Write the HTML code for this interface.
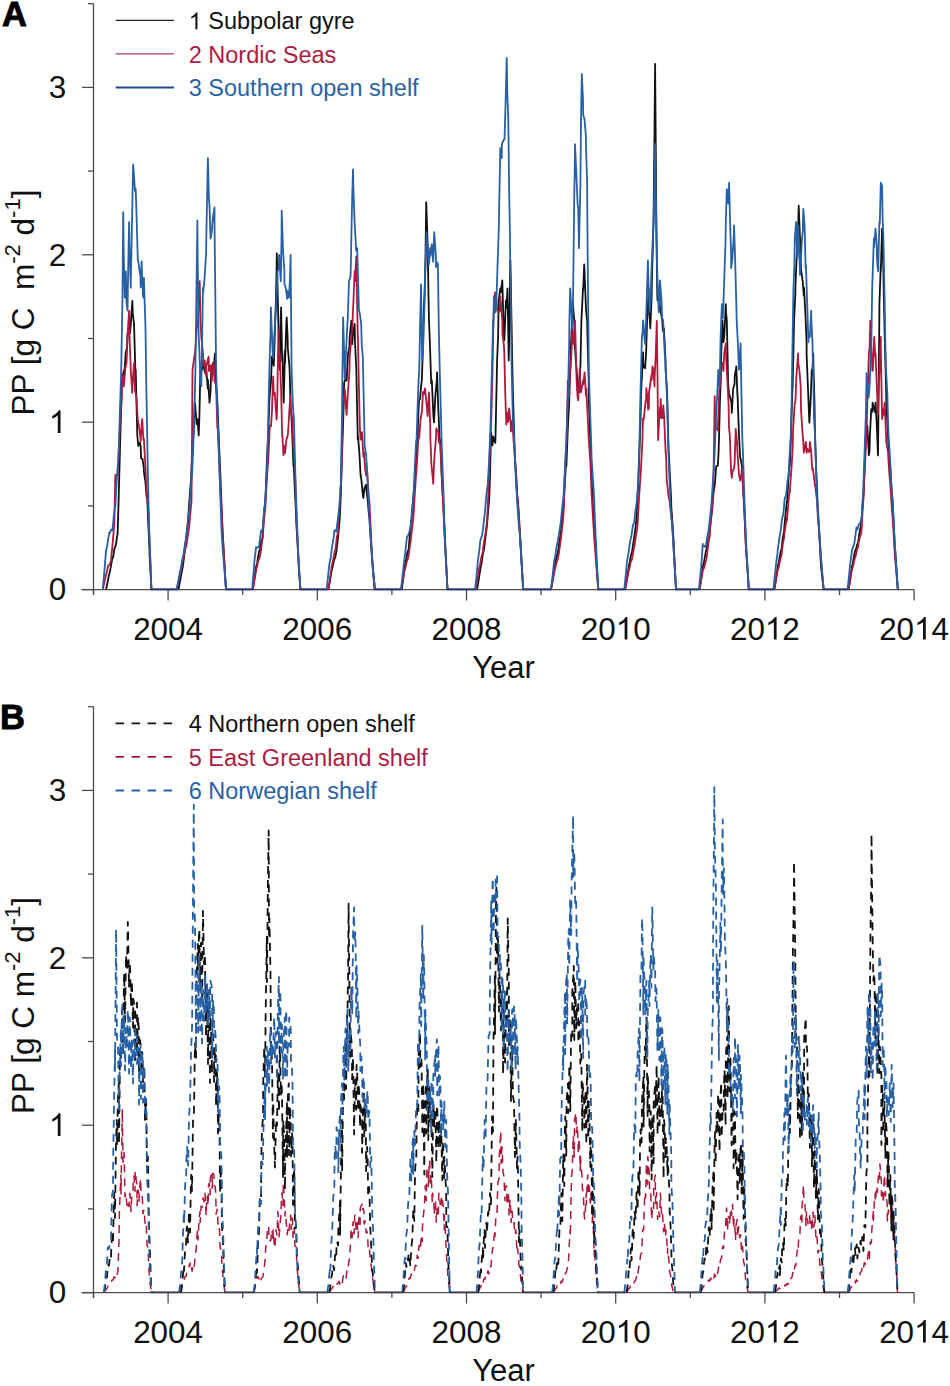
<!DOCTYPE html>
<html><head><meta charset="utf-8"><style>
html,body{margin:0;padding:0;background:#fff;width:950px;height:1386px;overflow:hidden}
svg{display:block}
text{white-space:pre}
</style></head><body>
<svg width="950" height="1386" viewBox="0 0 950 1386">
<rect width="950" height="1386" fill="#fff"/>
<line x1="93.5" y1="3.5" x2="93.5" y2="595.1" stroke="#4d4d4d" stroke-width="1.3"/>
<line x1="81.5" y1="589.6" x2="914.0999999999999" y2="589.6" stroke="#4d4d4d" stroke-width="1.3"/>
<line x1="82.0" y1="589.6" x2="93.5" y2="589.6" stroke="#4d4d4d" stroke-width="1.3"/>
<line x1="88.0" y1="505.9" x2="93.5" y2="505.9" stroke="#4d4d4d" stroke-width="1.3"/>
<line x1="82.0" y1="422.2" x2="93.5" y2="422.2" stroke="#4d4d4d" stroke-width="1.3"/>
<line x1="88.0" y1="338.5" x2="93.5" y2="338.5" stroke="#4d4d4d" stroke-width="1.3"/>
<line x1="82.0" y1="254.8" x2="93.5" y2="254.8" stroke="#4d4d4d" stroke-width="1.3"/>
<line x1="88.0" y1="171.1" x2="93.5" y2="171.1" stroke="#4d4d4d" stroke-width="1.3"/>
<line x1="82.0" y1="87.4" x2="93.5" y2="87.4" stroke="#4d4d4d" stroke-width="1.3"/>
<line x1="88.0" y1="3.7" x2="93.5" y2="3.7" stroke="#4d4d4d" stroke-width="1.3"/>
<text x="48.84" y="600.30" font-size="31.4" font-family="Liberation Sans, sans-serif" fill="#111111">0</text>
<text x="48.84" y="432.90" font-size="31.4" font-family="Liberation Sans, sans-serif" fill="#111111"> </text>
<path d="M763,0L583,0L583,1147C540,1106 483,1064 413,1023C343,982 280,951 223,930L223,1104C324,1151 412,1208 487,1276C562,1344 616,1409 647,1472L763,1472Z" transform="translate(48.84 432.90) scale(0.01533 -0.01533)" fill="#111111"/>
<text x="48.84" y="265.50" font-size="31.4" font-family="Liberation Sans, sans-serif" fill="#111111">2</text>
<text x="48.84" y="98.10" font-size="31.4" font-family="Liberation Sans, sans-serif" fill="#111111">3</text>
<line x1="93.5" y1="589.6" x2="93.5" y2="595.1" stroke="#4d4d4d" stroke-width="1.3"/>
<line x1="168.1" y1="589.6" x2="168.1" y2="600.6" stroke="#4d4d4d" stroke-width="1.3"/>
<text x="133.17" y="639.50" font-size="31.4" font-family="Liberation Sans, sans-serif" fill="#111111">2004</text>
<line x1="242.7" y1="589.6" x2="242.7" y2="595.1" stroke="#4d4d4d" stroke-width="1.3"/>
<line x1="317.3" y1="589.6" x2="317.3" y2="600.6" stroke="#4d4d4d" stroke-width="1.3"/>
<text x="282.37" y="639.50" font-size="31.4" font-family="Liberation Sans, sans-serif" fill="#111111">2006</text>
<line x1="391.9" y1="589.6" x2="391.9" y2="595.1" stroke="#4d4d4d" stroke-width="1.3"/>
<line x1="466.5" y1="589.6" x2="466.5" y2="600.6" stroke="#4d4d4d" stroke-width="1.3"/>
<text x="431.57" y="639.50" font-size="31.4" font-family="Liberation Sans, sans-serif" fill="#111111">2008</text>
<line x1="541.1" y1="589.6" x2="541.1" y2="595.1" stroke="#4d4d4d" stroke-width="1.3"/>
<line x1="615.7" y1="589.6" x2="615.7" y2="600.6" stroke="#4d4d4d" stroke-width="1.3"/>
<text x="580.77" y="639.50" font-size="31.4" font-family="Liberation Sans, sans-serif" fill="#111111">20 0</text>
<path d="M763,0L583,0L583,1147C540,1106 483,1064 413,1023C343,982 280,951 223,930L223,1104C324,1151 412,1208 487,1276C562,1344 616,1409 647,1472L763,1472Z" transform="translate(615.70 639.50) scale(0.01533 -0.01533)" fill="#111111"/>
<line x1="690.3" y1="589.6" x2="690.3" y2="595.1" stroke="#4d4d4d" stroke-width="1.3"/>
<line x1="764.9" y1="589.6" x2="764.9" y2="600.6" stroke="#4d4d4d" stroke-width="1.3"/>
<text x="729.97" y="639.50" font-size="31.4" font-family="Liberation Sans, sans-serif" fill="#111111">20 2</text>
<path d="M763,0L583,0L583,1147C540,1106 483,1064 413,1023C343,982 280,951 223,930L223,1104C324,1151 412,1208 487,1276C562,1344 616,1409 647,1472L763,1472Z" transform="translate(764.90 639.50) scale(0.01533 -0.01533)" fill="#111111"/>
<line x1="839.5" y1="589.6" x2="839.5" y2="595.1" stroke="#4d4d4d" stroke-width="1.3"/>
<line x1="914.1" y1="589.6" x2="914.1" y2="600.6" stroke="#4d4d4d" stroke-width="1.3"/>
<text x="879.17" y="639.50" font-size="31.4" font-family="Liberation Sans, sans-serif" fill="#111111">20 4</text>
<path d="M763,0L583,0L583,1147C540,1106 483,1064 413,1023C343,982 280,951 223,930L223,1104C324,1151 412,1208 487,1276C562,1344 616,1409 647,1472L763,1472Z" transform="translate(914.10 639.50) scale(0.01533 -0.01533)" fill="#111111"/>
<text x="503.6" y="677.9" text-anchor="middle" font-size="31" font-family="Liberation Sans, sans-serif" fill="#111111">Year</text>
<text x="2.0" y="26.0" font-size="34.5" font-weight="bold" font-family="Liberation Sans, sans-serif" fill="#000" stroke="#000" stroke-width="0.9">A</text>
<text transform="translate(34 302.5) rotate(-90)" text-anchor="middle" font-size="31.5" font-family="Liberation Sans, sans-serif" fill="#111111">PP [g C  m<tspan font-size="22" dy="-14">-2</tspan><tspan dy="14"> d</tspan><tspan font-size="22" dy="-14">-1</tspan><tspan dy="14">]</tspan></text>
<line x1="115.6" y1="20.4" x2="174" y2="20.4" stroke="#222" stroke-width="1.3"/>
<text x="188.70" y="29.30" font-size="23.5" font-family="Liberation Sans, sans-serif" fill="#111111"> </text>
<path d="M763,0L583,0L583,1147C540,1106 483,1064 413,1023C343,982 280,951 223,930L223,1104C324,1151 412,1208 487,1276C562,1344 616,1409 647,1472L763,1472Z" transform="translate(188.70 29.30) scale(0.01147 -0.01147)" fill="#111111"/>
<text x="201.77" y="29.3" font-size="23.5" font-family="Liberation Sans, sans-serif" fill="#111111"> Subpolar gyre</text>
<line x1="115.6" y1="53.9" x2="174" y2="53.9" stroke="#a8405c" stroke-width="1.3"/>
<text x="188.70" y="63.00" font-size="23.5" font-family="Liberation Sans, sans-serif" fill="#ae1c40">2</text>
<text x="201.77" y="63.0" font-size="23.5" font-family="Liberation Sans, sans-serif" fill="#ae1c40"> Nordic Seas</text>
<line x1="115.6" y1="87.5" x2="174" y2="87.5" stroke="#214f88" stroke-width="2.0"/>
<text x="188.70" y="96.00" font-size="23.5" font-family="Liberation Sans, sans-serif" fill="#2b62a6">3</text>
<text x="201.77" y="96.0" font-size="23.5" font-family="Liberation Sans, sans-serif" fill="#2b62a6"> Southern open shelf</text>
<line x1="150.4" y1="589.3000000000001" x2="177.7" y2="589.3000000000001" stroke="#25336e" stroke-width="2.0"/>
<line x1="225.0" y1="589.3000000000001" x2="253.2" y2="589.3000000000001" stroke="#25336e" stroke-width="2.0"/>
<line x1="299.5" y1="589.3000000000001" x2="327.7" y2="589.3000000000001" stroke="#25336e" stroke-width="2.0"/>
<line x1="374.0" y1="589.3000000000001" x2="402.0" y2="589.3000000000001" stroke="#25336e" stroke-width="2.0"/>
<line x1="446.5" y1="589.3000000000001" x2="476.1" y2="589.3000000000001" stroke="#25336e" stroke-width="2.0"/>
<line x1="522.2" y1="589.3000000000001" x2="552.0" y2="589.3000000000001" stroke="#25336e" stroke-width="2.0"/>
<line x1="597.3" y1="589.3000000000001" x2="625.3" y2="589.3000000000001" stroke="#25336e" stroke-width="2.0"/>
<line x1="675.0" y1="589.3000000000001" x2="699.9" y2="589.3000000000001" stroke="#25336e" stroke-width="2.0"/>
<line x1="747.8" y1="589.3000000000001" x2="774.4" y2="589.3000000000001" stroke="#25336e" stroke-width="2.0"/>
<line x1="822.7" y1="589.3000000000001" x2="848.6" y2="589.3000000000001" stroke="#25336e" stroke-width="2.0"/>
<path d="M106.1,589.3 L107.5,582.8 L108.9,575.5 L110.3,569.6 L111.7,561.7 L112.7,556.9 L113.1,557.3 L114.5,548.4 L115.9,544.8 L117.3,535.3 L117.6,534.0 L118.7,497.7 L119.3,474.9 L120.1,443.4 L121.5,397.4 L121.9,379.7 L122.9,375.2 L124.2,369.8 L124.3,374.4 L125.7,352.8 L127.1,346.9 L127.5,333.7 L128.5,330.5 L129.9,333.3 L130.8,323.8 L131.3,315.8 L132.4,300.9 L132.7,312.8 L134.0,323.8 L134.1,326.5 L135.5,375.5 L135.7,369.8 L136.9,419.9 L137.3,435.5 L138.3,446.0 L139.7,442.7 L140.6,445.3 L141.1,458.3 L142.5,458.8 L143.9,468.3 L143.9,471.6 L145.3,481.3 L146.7,497.0 L147.2,497.8 L148.1,519.8 L149.5,550.4 L149.5,554.1 L150.9,579.3 L151.4,589.3 M178.4,589.3 L179.8,582.5 L181.2,574.6 L182.6,567.9 L183.3,563.5 L184.0,557.2 L185.4,545.9 L186.8,531.1 L188.2,521.6 L188.2,517.5 L189.6,497.3 L191.0,480.7 L191.5,468.3 L192.4,450.9 L193.8,428.9 L194.8,402.6 L195.2,405.0 L196.6,424.1 L197.4,419.1 L198.0,426.0 L198.7,435.5 L199.4,416.1 L200.4,369.8 L200.8,368.8 L202.2,369.9 L203.0,363.2 L203.6,364.4 L205.0,372.8 L206.3,369.8 L206.4,370.4 L207.8,388.6 L207.9,379.7 L209.2,397.2 L209.5,402.6 L210.6,390.4 L211.2,369.8 L212.0,366.7 L212.8,363.2 L213.4,373.3 L214.8,355.0 L215.1,353.4 L216.2,387.7 L217.1,396.1 L217.6,407.3 L219.0,445.1 L219.4,451.9 L220.4,475.9 L221.8,513.3 L222.7,534.0 L223.2,542.0 L224.6,566.9 L226.0,589.2 L226.0,589.3 M252.8,589.3 L254.2,580.0 L255.6,570.1 L256.1,566.8 L257.0,563.9 L258.4,555.2 L259.4,550.4 L259.8,549.3 L261.2,541.2 L262.6,537.9 L262.7,534.0 L264.0,513.7 L265.4,498.9 L266.0,484.7 L266.8,463.0 L268.2,433.9 L269.3,402.6 L269.6,395.9 L271.0,381.4 L271.9,356.7 L272.4,355.9 L273.8,365.8 L274.2,353.4 L275.2,321.6 L275.8,304.1 L276.6,268.5 L276.8,253.3 L278.0,307.3 L278.1,310.7 L279.4,367.6 L279.8,369.8 L280.8,318.5 L281.1,307.4 L282.2,361.6 L282.4,353.4 L283.6,400.4 L283.7,402.6 L285.0,350.1 L285.0,363.5 L286.4,321.6 L286.7,317.3 L287.6,337.0 L287.8,348.0 L289.2,363.7 L289.6,369.8 L290.6,405.1 L291.6,419.1 L292.0,428.9 L293.4,465.0 L293.9,468.3 L294.8,488.9 L296.2,517.5 L296.2,521.5 L297.6,545.0 L298.8,566.8 L299.0,570.6 L300.4,589.3 L300.5,589.3 M328.4,589.3 L329.8,581.7 L331.2,573.3 L332.3,566.8 L332.6,567.1 L334.0,560.4 L335.4,556.7 L336.6,550.4 L336.8,548.4 L338.2,536.1 L339.6,520.4 L339.8,517.5 L341.0,491.3 L342.1,451.9 L342.4,444.5 L343.8,401.2 L344.1,382.9 L345.2,380.0 L346.4,376.4 L346.6,380.6 L348.0,354.8 L348.1,353.4 L349.4,346.7 L349.7,337.0 L350.8,326.4 L351.3,320.6 L352.2,344.3 L352.7,337.0 L353.6,330.9 L354.6,323.8 L355.0,341.5 L356.3,369.8 L356.4,373.6 L357.8,439.4 L357.9,435.5 L359.2,450.5 L359.5,455.2 L360.6,475.5 L361.2,478.1 L362.0,485.8 L362.8,494.6 L363.4,498.0 L364.5,488.0 L364.8,487.4 L366.1,484.7 L366.2,487.6 L367.6,499.2 L369.0,515.5 L369.4,517.5 L370.4,532.0 L371.8,555.1 L372.7,566.8 L373.2,571.5 L374.6,585.3 L375.0,589.3 M401.8,589.3 L403.2,579.1 L404.6,567.7 L405.0,564.6 L406.0,561.1 L407.4,552.6 L408.8,548.5 L409.0,544.6 L410.2,531.5 L411.6,518.6 L413.0,500.7 L413.0,500.6 L414.4,485.4 L415.8,462.2 L416.2,456.5 L417.2,444.3 L418.6,408.8 L419.0,400.4 L420.0,399.0 L421.4,383.4 L421.8,380.4 L422.8,351.4 L423.4,320.3 L424.2,301.0 L425.0,280.3 L425.6,250.6 L426.2,202.2 L427.0,224.4 L427.8,248.2 L428.4,291.2 L429.0,320.3 L429.8,340.8 L430.2,352.4 L431.2,383.1 L431.8,380.4 L432.6,397.6 L433.4,416.5 L434.0,422.5 L435.1,400.4 L435.4,395.4 L436.8,380.3 L437.1,372.4 L438.2,407.1 L438.3,408.4 L439.6,438.5 L440.3,440.5 L441.0,456.6 L442.4,489.8 L443.1,500.6 L443.8,515.6 L445.1,540.6 L445.2,545.8 L446.6,572.0 L447.5,589.3 M477.1,589.3 L478.5,581.0 L479.9,572.1 L481.1,564.6 L481.3,565.2 L482.7,555.1 L484.1,548.7 L485.1,540.6 L485.5,536.7 L486.9,526.3 L488.3,508.7 L489.1,500.6 L489.7,486.0 L491.1,433.0 L491.1,432.5 L492.5,445.4 L493.1,436.5 L493.9,439.1 L494.3,440.5 L495.3,442.9 L495.5,436.5 L496.7,380.5 L497.1,360.4 L498.1,337.1 L498.7,300.3 L499.5,294.5 L500.3,288.3 L500.9,292.2 L502.3,280.4 L502.3,280.3 L503.7,331.9 L504.3,340.4 L505.1,321.2 L505.9,300.3 L506.5,307.8 L507.5,288.3 L507.9,310.1 L508.7,360.4 L509.3,337.7 L510.3,260.3 L510.7,278.3 L511.5,320.3 L512.1,354.3 L513.1,400.4 L513.5,411.1 L514.9,459.9 L515.1,460.5 L516.3,477.0 L517.7,503.3 L517.9,500.6 L519.1,519.7 L520.4,540.6 L520.5,544.7 L521.9,567.5 L523.2,589.3 M551.0,589.3 L552.4,580.9 L553.8,572.1 L555.0,564.6 L555.2,564.7 L556.6,556.7 L558.0,552.1 L559.0,544.6 L559.4,541.5 L560.8,533.0 L562.2,519.1 L563.0,512.6 L563.6,506.0 L565.0,480.3 L566.2,460.5 L566.4,465.8 L567.8,428.9 L568.2,420.5 L569.2,402.4 L569.4,392.4 L570.6,357.1 L571.0,344.4 L572.0,323.9 L572.6,300.3 L573.4,310.0 L574.2,320.3 L574.8,344.0 L575.8,360.4 L576.2,365.0 L577.4,380.4 L577.6,390.8 L579.0,392.2 L579.0,392.4 L580.2,368.4 L580.4,367.3 L581.4,320.3 L581.8,313.1 L583.0,288.3 L583.2,289.5 L584.2,264.3 L584.6,273.9 L585.5,296.3 L586.0,309.1 L587.1,320.3 L587.4,333.7 L588.7,380.4 L588.8,397.6 L590.2,438.7 L590.3,440.5 L591.6,478.0 L592.7,500.6 L593.0,506.4 L594.4,532.7 L595.1,540.6 L595.8,552.0 L597.2,573.8 L598.3,589.3 M625.1,589.3 L626.5,581.2 L627.9,572.1 L629.1,564.6 L629.3,564.3 L630.7,556.7 L632.1,551.2 L633.1,544.6 L633.5,541.7 L634.9,532.8 L636.3,520.7 L636.3,520.6 L637.7,495.7 L639.1,460.9 L639.1,460.5 L640.5,421.7 L641.1,392.4 L641.9,376.8 L643.1,352.4 L643.3,367.5 L644.7,365.0 L645.1,368.4 L646.1,353.3 L647.1,320.3 L647.5,312.9 L648.7,288.3 L648.9,305.3 L650.3,327.6 L650.3,328.3 L651.7,295.4 L651.9,280.3 L653.1,236.5 L653.5,220.2 L654.5,132.8 L655.1,64.0 L655.9,163.3 L656.3,220.2 L657.3,295.2 L657.5,300.3 L658.7,291.6 L659.1,288.3 L660.1,310.4 L660.7,312.3 L661.5,316.1 L662.3,320.3 L662.9,331.0 L663.9,328.3 L664.3,335.4 L665.5,360.4 L665.7,371.3 L667.1,391.4 L667.1,392.4 L668.5,448.3 L669.2,460.5 L669.9,475.4 L671.2,500.6 L671.3,506.7 L672.7,526.3 L673.6,540.6 L674.1,552.5 L675.5,580.0 L676.0,589.3 M699.6,589.3 L701.0,580.0 L702.4,570.1 L702.8,566.8 L703.8,563.1 L705.2,555.2 L706.1,550.4 L706.6,549.3 L708.0,541.2 L709.4,537.1 L709.4,534.0 L710.8,520.4 L712.2,509.2 L712.7,501.1 L713.6,492.4 L715.0,483.2 L716.0,468.3 L716.4,465.9 L717.8,465.8 L718.6,451.9 L719.2,430.9 L719.9,402.6 L720.6,383.9 L721.2,353.4 L722.0,335.1 L722.5,320.6 L723.4,342.1 L724.2,337.0 L724.8,325.4 L725.8,304.1 L726.2,314.3 L726.8,320.6 L727.6,356.2 L728.1,382.9 L729.0,393.9 L729.8,396.1 L730.4,398.5 L731.4,402.6 L731.8,412.9 L733.1,389.5 L733.2,388.6 L734.6,384.0 L734.7,376.4 L736.0,368.7 L736.3,366.5 L737.4,394.8 L737.6,396.1 L738.8,429.6 L739.0,435.5 L740.2,458.3 L740.6,458.5 L741.6,464.2 L742.2,468.3 L743.0,488.8 L743.9,501.1 L744.4,511.4 L745.8,543.9 L746.2,550.4 L747.2,564.9 L748.6,585.8 L748.8,589.3 M774.4,589.3 L775.8,580.2 L777.2,570.1 L777.7,566.8 L778.6,563.0 L780.0,555.2 L781.0,550.4 L781.4,550.1 L782.8,537.5 L784.2,530.6 L784.3,527.4 L785.6,513.9 L786.9,501.1 L787.0,504.2 L788.4,479.3 L789.2,468.3 L789.8,465.0 L790.8,442.0 L791.2,428.9 L792.5,386.2 L792.6,388.1 L794.0,324.5 L794.1,320.6 L795.4,292.8 L795.4,287.7 L796.8,253.0 L797.4,238.5 L798.2,225.3 L798.7,205.7 L799.6,228.3 L800.0,238.5 L801.0,269.6 L801.3,271.3 L802.4,279.4 L802.7,281.2 L803.8,295.6 L804.0,287.7 L805.2,309.7 L805.3,310.7 L806.6,343.5 L806.6,354.3 L807.9,386.2 L808.0,389.1 L809.2,419.1 L809.4,422.8 L810.5,402.6 L810.8,395.5 L811.8,369.8 L812.2,375.1 L813.2,353.4 L813.6,370.7 L814.5,402.6 L815.0,436.0 L816.1,468.3 L816.4,474.9 L817.8,507.1 L818.4,517.5 L819.2,532.7 L820.6,559.8 L821.0,566.8 L822.0,575.2 L823.4,587.3 L823.7,589.3 M848.6,589.3 L850.0,580.2 L851.4,570.1 L851.9,566.8 L852.8,563.7 L854.2,555.2 L855.2,550.4 L855.6,550.6 L857.0,544.9 L858.4,542.1 L858.4,540.5 L859.8,531.1 L861.2,524.5 L861.7,517.5 L862.6,505.1 L864.0,487.9 L864.0,484.7 L865.4,443.6 L865.7,435.5 L866.8,432.5 L867.3,425.6 L868.2,441.6 L868.9,455.2 L869.6,450.1 L869.9,435.5 L871.0,414.3 L871.2,409.2 L872.4,411.7 L872.6,402.6 L873.8,407.6 L874.2,409.2 L875.2,412.1 L875.5,402.6 L876.6,421.5 L876.8,425.6 L878.0,455.4 L878.1,448.6 L879.4,310.8 L879.4,304.1 L880.8,264.8 L880.8,271.1 L882.1,228.6 L882.2,232.3 L883.4,271.3 L883.6,286.1 L884.7,337.0 L885.0,347.7 L886.0,386.2 L886.4,405.0 L887.8,430.6 L888.0,435.5 L889.2,460.9 L890.3,468.3 L890.6,472.7 L892.0,495.9 L892.6,501.1 L893.4,516.3 L894.8,545.8 L895.2,550.4 L896.2,564.9 L897.6,585.8 L897.8,589.3" fill="none" stroke="#111111" stroke-width="1.8" stroke-linejoin="round"/>
<path d="M102.8,589.3 L104.2,583.2 L105.6,576.5 L107.0,571.3 L107.8,566.8 L108.4,565.4 L109.8,564.4 L111.1,560.2 L111.2,558.1 L112.6,543.8 L114.0,527.3 L114.3,524.1 L115.3,474.9 L115.4,480.0 L116.8,474.9 L117.6,474.9 L118.2,466.3 L119.6,430.3 L120.9,402.6 L121.0,410.4 L122.4,377.9 L122.5,376.4 L123.8,386.3 L125.2,369.8 L125.2,368.7 L126.6,362.2 L127.5,337.0 L128.0,327.7 L129.1,310.7 L129.4,333.1 L130.8,369.8 L130.8,370.8 L132.2,392.8 L132.4,386.2 L133.6,368.7 L134.0,363.2 L135.0,390.9 L136.3,396.1 L136.4,397.3 L137.8,420.3 L139.0,425.6 L139.2,427.9 L140.6,438.8 L140.6,441.9 L142.0,421.4 L142.2,419.1 L143.4,439.7 L143.9,438.8 L144.8,456.1 L145.5,468.3 L146.2,484.3 L147.6,500.1 L148.8,517.5 L149.0,527.9 L150.4,562.3 L151.4,589.3 M176.7,589.3 L178.1,583.3 L179.5,576.5 L180.9,571.1 L181.6,566.8 L182.3,563.4 L183.7,557.3 L184.9,550.4 L185.1,549.4 L186.5,544.9 L187.9,535.4 L188.2,534.0 L189.3,525.3 L190.7,508.9 L191.5,501.1 L192.1,428.1 L192.5,369.8 L193.5,362.4 L194.8,353.4 L194.9,356.1 L196.3,334.1 L197.4,320.6 L197.7,326.9 L199.1,291.1 L199.7,281.2 L200.5,320.3 L201.3,337.0 L201.9,342.8 L203.0,353.4 L203.3,366.1 L204.7,360.3 L206.1,376.4 L206.3,366.5 L207.5,361.2 L208.6,356.7 L208.9,371.0 L210.3,365.5 L211.2,369.8 L211.7,381.1 L213.1,365.0 L213.8,363.2 L214.5,380.9 L215.9,384.3 L216.1,386.2 L217.3,427.7 L217.8,428.9 L218.7,450.1 L220.1,485.0 L221.0,501.1 L221.5,509.7 L222.9,538.4 L224.3,559.8 L225.7,585.1 L226.0,589.3 M252.8,589.3 L254.2,581.8 L255.6,573.3 L256.8,566.8 L257.0,566.7 L258.4,560.4 L259.8,556.6 L261.1,550.4 L261.2,548.4 L262.6,537.6 L264.0,520.4 L264.3,517.5 L265.4,507.0 L266.8,479.9 L267.6,468.3 L268.2,461.6 L269.6,430.7 L269.9,425.6 L271.0,426.1 L271.9,412.5 L272.4,397.1 L273.2,376.4 L273.8,394.8 L274.8,392.8 L275.2,399.5 L275.8,409.2 L276.6,419.5 L277.1,409.2 L278.0,354.9 L278.5,330.4 L279.4,355.9 L279.8,353.4 L280.8,383.1 L281.1,389.5 L282.2,437.0 L282.4,435.5 L283.4,455.2 L283.6,453.6 L285.0,445.3 L285.0,453.2 L286.4,439.6 L286.7,438.8 L287.8,435.3 L288.3,428.9 L289.2,413.2 L290.3,396.1 L290.6,407.6 L292.0,416.8 L292.2,419.1 L293.4,445.6 L294.8,467.9 L294.9,468.3 L296.2,509.8 L297.2,534.0 L297.6,542.0 L299.0,567.3 L300.4,589.2 L300.5,589.3 M328.4,589.3 L329.8,580.2 L331.2,570.1 L331.6,566.8 L332.6,562.8 L334.0,555.2 L334.9,550.4 L335.4,550.1 L336.8,537.5 L338.2,532.0 L338.2,527.4 L339.6,505.4 L340.8,484.7 L341.0,484.2 L342.4,425.9 L343.1,396.1 L343.8,400.1 L344.8,389.5 L345.2,394.9 L346.4,412.5 L346.6,414.9 L348.0,390.9 L348.1,389.5 L349.4,372.3 L349.7,356.7 L350.8,344.0 L351.3,337.0 L352.2,330.7 L353.0,310.7 L353.6,296.9 L354.6,271.3 L355.0,281.5 L356.3,256.5 L356.4,261.2 L357.8,337.9 L357.9,337.0 L358.9,386.2 L359.2,397.8 L359.9,428.9 L360.6,439.6 L361.8,432.2 L362.0,433.3 L363.4,456.5 L363.8,451.9 L364.8,463.7 L365.1,468.3 L366.2,475.6 L367.1,471.6 L367.6,477.5 L369.0,500.3 L369.4,501.1 L370.4,521.8 L371.7,550.4 L371.8,552.3 L373.2,572.1 L374.3,589.3 M401.0,589.3 L402.4,582.2 L403.8,574.9 L405.0,568.6 L405.2,568.9 L406.6,562.3 L408.0,558.5 L409.0,552.6 L409.4,549.5 L410.8,539.9 L412.2,527.1 L413.0,520.6 L413.6,514.8 L415.0,490.8 L416.2,472.5 L416.4,472.3 L417.8,447.7 L419.0,428.5 L419.2,438.3 L420.6,419.0 L421.0,416.5 L422.0,411.0 L423.0,392.4 L423.4,391.7 L424.8,394.1 L425.0,388.4 L426.2,400.1 L427.0,408.4 L427.6,416.1 L429.0,392.7 L429.0,392.4 L430.2,424.5 L430.4,438.9 L431.4,464.5 L431.8,468.1 L433.0,480.5 L433.2,483.9 L434.2,460.5 L434.6,454.7 L436.0,437.6 L436.3,428.5 L437.4,430.8 L438.3,432.5 L438.8,441.8 L440.2,444.2 L440.3,444.5 L441.6,475.2 L443.0,499.5 L443.1,500.6 L444.4,533.1 L445.1,544.6 L445.8,558.5 L447.2,584.8 L447.5,589.3 M475.9,589.3 L477.3,580.7 L478.7,571.2 L479.1,568.6 L480.1,564.4 L481.5,556.7 L482.9,551.7 L483.1,548.6 L484.3,540.3 L485.7,532.2 L487.1,520.7 L487.1,520.6 L488.5,490.7 L489.9,450.9 L490.3,440.5 L491.3,418.1 L492.3,380.4 L492.7,360.4 L493.9,296.3 L494.1,302.7 L495.1,292.3 L495.5,294.8 L496.3,300.3 L496.9,308.6 L498.3,312.2 L498.3,312.3 L499.7,311.2 L500.3,296.3 L501.1,305.6 L502.3,320.3 L502.5,334.4 L503.9,345.4 L504.3,352.4 L505.3,395.4 L506.3,424.5 L506.7,421.7 L507.9,412.4 L508.1,421.9 L509.1,408.4 L509.5,412.0 L510.7,424.5 L510.9,431.5 L512.3,420.6 L512.3,420.5 L513.7,442.5 L513.9,440.5 L515.1,459.7 L516.3,480.5 L516.5,488.0 L517.9,502.7 L519.2,520.6 L519.3,525.8 L520.7,547.1 L522.1,571.7 L523.2,589.3 M551.0,589.3 L552.4,582.3 L553.8,574.9 L555.0,568.6 L555.2,568.5 L556.6,562.3 L558.0,558.5 L559.0,552.6 L559.4,549.5 L560.8,539.6 L562.2,527.1 L563.0,520.6 L563.6,511.5 L565.0,470.9 L565.4,460.5 L566.4,441.6 L567.0,420.5 L567.8,381.4 L567.8,380.4 L569.2,396.6 L569.4,384.4 L570.6,366.7 L571.0,360.4 L572.0,341.3 L572.2,328.3 L573.4,340.1 L573.8,344.4 L574.8,329.8 L575.0,320.3 L576.2,364.3 L576.6,380.4 L577.6,397.4 L578.2,400.4 L579.0,385.1 L579.8,368.4 L580.4,389.3 L581.0,392.4 L581.8,387.8 L583.0,380.4 L583.2,384.4 L584.6,372.6 L584.6,372.4 L586.0,395.9 L586.3,388.4 L587.4,411.6 L587.9,420.5 L588.8,440.1 L590.2,459.7 L590.3,460.5 L591.6,493.8 L592.7,512.6 L593.0,517.8 L594.4,540.6 L595.1,548.6 L595.8,558.1 L597.2,576.3 L598.3,589.3 M699.6,589.3 L701.0,581.4 L702.4,572.9 L702.8,570.1 L703.8,568.6 L705.2,563.1 L706.1,560.2 L706.6,557.8 L708.0,546.5 L708.8,540.5 L709.4,537.1 L710.8,520.4 L711.1,517.5 L712.2,507.4 L713.4,484.7 L713.6,470.4 L714.7,396.1 L715.0,407.6 L716.0,428.9 L716.4,428.9 L717.6,428.9 L717.8,430.6 L719.2,391.9 L719.3,389.5 L720.6,383.3 L720.9,369.8 L722.0,365.6 L722.5,363.2 L723.4,371.1 L724.2,353.4 L724.8,349.9 L725.8,343.5 L726.2,359.4 L727.1,376.4 L727.6,384.8 L728.5,402.6 L729.0,426.9 L729.8,435.5 L730.4,451.9 L731.1,471.6 L731.8,477.8 L732.4,471.6 L733.2,470.0 L734.0,468.3 L734.6,463.8 L735.7,428.9 L736.0,431.8 L737.0,442.0 L737.4,451.7 L738.8,471.6 L739.0,474.9 L740.2,480.7 L740.6,478.1 L741.6,472.4 L742.2,468.3 L743.0,487.4 L743.9,501.1 L744.4,511.4 L745.8,544.4 L746.2,550.4 L747.2,564.9 L748.6,585.8 L748.8,589.3 M774.4,589.3 L775.8,581.5 L777.2,572.9 L777.7,570.1 L778.6,568.0 L780.0,560.8 L781.0,556.9 L781.4,556.1 L782.8,544.1 L784.2,537.5 L784.3,534.0 L785.6,525.5 L786.9,517.5 L787.0,520.7 L788.4,502.3 L789.2,494.6 L789.8,492.2 L791.2,471.4 L791.5,468.3 L792.6,449.2 L793.1,428.9 L794.0,414.7 L794.8,402.6 L795.4,402.1 L796.4,376.4 L796.8,370.7 L798.1,353.4 L798.2,362.8 L799.4,369.8 L799.6,372.9 L800.7,386.2 L801.0,409.3 L802.0,425.6 L802.4,430.9 L803.3,442.0 L803.8,452.6 L804.6,448.6 L805.2,445.6 L805.9,442.0 L806.6,452.7 L807.2,448.6 L808.0,450.5 L808.6,451.9 L809.4,451.6 L809.9,442.0 L810.8,449.1 L811.2,451.9 L812.2,469.8 L812.8,468.3 L813.6,473.9 L815.0,486.5 L815.1,484.7 L816.4,495.5 L817.1,501.1 L817.8,516.4 L819.2,531.4 L819.4,534.0 L820.6,552.3 L821.7,566.8 L822.0,570.5 L823.4,586.6 L823.7,589.3 M848.6,589.3 L850.0,581.3 L851.4,572.9 L851.9,570.1 L852.8,567.1 L854.2,560.8 L855.2,556.9 L855.6,556.5 L857.0,549.6 L858.4,546.5 L858.4,543.8 L859.8,537.1 L861.2,533.5 L861.7,527.4 L862.6,511.3 L864.0,489.7 L864.0,484.7 L865.4,457.3 L865.7,451.9 L866.8,423.7 L867.3,402.6 L868.2,376.0 L868.9,353.4 L869.6,348.0 L870.3,320.6 L871.0,338.9 L871.6,353.4 L872.4,370.9 L872.9,369.8 L873.8,347.2 L874.2,337.0 L875.2,356.2 L875.5,353.4 L876.6,380.4 L876.8,386.2 L878.0,413.8 L878.1,402.6 L879.4,371.3 L879.4,369.8 L880.8,337.0 L880.8,348.6 L882.1,419.1 L882.2,418.2 L883.4,409.2 L883.6,415.0 L884.7,402.6 L885.0,409.8 L886.0,435.5 L886.4,443.2 L887.8,450.3 L888.0,451.9 L889.2,472.4 L890.3,484.7 L890.6,489.1 L892.0,511.6 L892.6,517.5 L893.4,530.7 L894.8,554.8 L895.2,560.2 L896.2,571.1 L897.6,586.7 L897.8,589.3 M625.1,589.3 L626.5,582.5 L627.9,574.8 L629.1,568.6 L629.3,569.3 L630.7,562.2 L632.1,558.8 L633.1,552.6 L633.5,550.2 L634.9,543.4 L636.3,533.4 L637.1,528.6 L637.7,522.8 L639.1,496.1 L640.5,477.4 L641.9,450.5 L642.5,440.1 L643.0,418.4 L643.3,421.2 L644.3,414.1 L644.7,409.8 L645.6,401.1 L646.1,399.2 L646.4,388.1 L647.3,396.7 L647.5,399.6 L648.2,409.7 L648.9,407.4 L649.0,392.4 L650.3,384.0 L650.3,383.7 L651.4,375.1 L651.7,380.0 L652.5,366.4 L653.1,368.8 L653.6,370.7 L654.5,386.5 L654.7,375.1 L655.8,353.4 L655.9,349.2 L656.8,320.9 L657.3,363.1 L657.5,375.1 L658.1,440.1 L658.7,429.0 L659.0,422.7 L659.9,407.6 L660.1,417.2 L660.7,398.9 L661.5,415.9 L661.6,418.4 L662.5,409.7 L662.9,417.8 L663.3,405.4 L664.2,418.4 L664.3,420.6 L665.1,440.1 L665.7,453.4 L665.9,450.9 L666.8,480.4 L667.1,482.5 L668.5,496.5 L669.6,500.5 L669.9,503.0 L671.3,518.0 L672.0,520.6 L672.7,532.3 L674.1,556.4 L674.4,560.6 L675.5,580.3 L676.0,589.3" fill="none" stroke="#b0183c" stroke-width="1.8" stroke-linejoin="round"/>
<path d="M102.8,589.3 L104.2,573.2 L105.6,556.1 L106.1,550.4 L107.0,547.0 L108.4,537.6 L109.4,532.3 L109.8,533.1 L111.2,529.6 L112.6,530.2 L112.7,527.4 L114.0,513.9 L115.4,504.9 L116.0,494.6 L116.8,478.9 L118.2,461.8 L119.3,435.5 L119.6,422.4 L120.9,379.7 L121.0,381.3 L122.4,302.5 L122.5,297.6 L123.2,212.2 L123.8,257.9 L124.8,297.6 L125.2,286.8 L125.8,271.3 L126.6,303.9 L127.5,310.7 L128.0,279.5 L129.1,222.1 L129.4,244.9 L130.8,287.7 L130.8,282.7 L132.2,212.3 L133.1,164.6 L133.6,170.2 L135.0,190.9 L135.7,189.2 L136.4,210.4 L137.8,259.8 L138.3,261.5 L139.2,268.2 L140.6,277.9 L140.6,287.3 L141.6,261.5 L142.0,273.0 L142.9,294.3 L143.4,297.7 L143.9,277.9 L144.8,306.8 L145.5,327.1 L146.2,379.9 L147.2,435.5 L147.6,459.4 L148.8,517.5 L149.0,525.3 L150.4,562.3 L151.4,589.3 M176.7,589.3 L178.1,582.2 L179.5,574.6 L180.9,567.7 L181.6,563.5 L182.3,559.5 L183.7,553.2 L185.1,542.7 L186.5,536.8 L186.6,534.0 L187.9,520.4 L189.3,510.0 L189.8,501.1 L190.7,488.1 L192.1,473.3 L193.1,451.9 L193.5,438.1 L194.9,392.4 L195.4,369.8 L196.3,302.6 L197.4,220.4 L197.7,258.9 L198.7,337.0 L199.1,344.6 L200.5,381.6 L201.3,386.2 L201.9,351.6 L203.0,287.7 L203.3,291.7 L204.6,277.9 L204.7,275.6 L206.1,253.5 L206.3,238.5 L207.5,177.1 L207.9,158.1 L208.9,198.0 L209.5,205.7 L210.3,231.3 L210.5,238.5 L211.7,232.6 L212.8,218.8 L213.1,216.8 L214.5,207.3 L214.5,219.8 L215.9,350.4 L216.1,369.8 L217.3,409.0 L218.4,435.5 L218.7,444.6 L220.1,488.9 L221.5,528.6 L221.7,534.0 L222.9,552.0 L224.3,568.0 L225.7,586.2 L226.0,589.3 M252.2,589.3 L253.6,572.1 L254.5,560.2 L255.0,556.2 L256.1,547.1 L256.4,548.2 L257.8,547.1 L258.8,547.1 L259.2,544.9 L260.6,534.0 L261.1,530.7 L262.0,531.0 L262.7,529.0 L263.4,520.0 L264.3,507.7 L264.8,505.4 L266.2,486.5 L266.6,481.4 L267.6,450.2 L268.6,402.6 L269.0,387.2 L269.9,350.1 L270.4,336.8 L270.9,307.4 L271.8,330.5 L272.5,350.1 L273.2,358.0 L274.2,337.0 L274.6,330.5 L275.8,310.7 L276.0,311.9 L277.4,273.2 L277.5,271.3 L278.8,268.2 L279.1,254.9 L280.2,272.2 L280.8,281.2 L281.6,233.2 L281.7,210.6 L283.0,249.7 L283.1,251.6 L284.4,271.3 L284.4,284.0 L285.7,287.7 L285.8,288.0 L287.2,298.8 L287.3,291.0 L288.6,296.1 L289.0,297.6 L290.0,277.6 L290.6,254.9 L291.4,347.0 L291.6,369.8 L292.8,404.3 L293.9,419.1 L294.2,430.0 L295.6,484.2 L296.2,501.1 L297.0,521.3 L298.4,557.7 L298.8,566.8 L299.8,580.2 L300.5,589.3 M326.7,589.3 L328.1,576.1 L329.0,566.8 L329.5,563.7 L330.9,556.5 L331.6,550.4 L332.3,545.3 L333.7,537.7 L334.3,530.7 L335.1,530.1 L336.5,531.7 L336.6,529.0 L337.9,518.4 L338.9,511.0 L339.3,508.0 L340.7,486.3 L340.8,484.7 L342.1,410.3 L342.1,402.6 L343.1,317.3 L343.5,331.1 L344.8,376.4 L344.9,378.9 L345.8,356.7 L346.3,345.5 L347.4,323.8 L347.7,320.4 L349.0,281.2 L349.1,280.7 L350.5,276.7 L350.7,271.3 L351.9,209.6 L352.0,205.7 L353.0,169.5 L353.3,185.7 L354.6,222.1 L354.7,223.7 L355.9,245.1 L356.1,250.6 L357.2,248.3 L357.5,258.4 L358.6,297.6 L358.9,309.6 L359.9,314.0 L360.3,317.3 L361.2,323.8 L361.7,344.5 L362.8,356.7 L363.1,370.5 L364.5,435.5 L364.5,445.1 L365.9,453.5 L367.1,468.3 L367.3,476.3 L368.7,503.0 L369.4,517.5 L370.1,531.6 L371.5,549.4 L372.7,566.8 L372.9,570.2 L374.3,582.8 L375.0,589.3 M401.0,589.3 L402.4,577.2 L403.8,564.2 L404.2,560.6 L405.2,553.2 L406.6,540.1 L407.0,536.6 L408.0,536.0 L409.4,531.5 L409.8,530.6 L410.8,524.9 L412.2,508.2 L413.0,500.6 L413.6,494.1 L415.0,463.3 L416.2,440.5 L416.4,444.3 L417.8,400.9 L418.6,380.4 L419.2,370.7 L420.2,320.3 L420.6,303.4 L421.0,284.3 L422.0,353.7 L422.2,360.4 L423.4,340.8 L423.4,340.4 L424.8,294.9 L425.0,280.3 L426.2,245.2 L426.6,232.2 L427.6,254.0 L427.8,252.3 L429.0,263.9 L429.0,264.3 L430.2,248.2 L430.4,255.8 L431.8,244.3 L431.8,244.2 L433.0,260.3 L433.2,261.8 L434.2,232.2 L434.6,237.6 L435.9,256.3 L436.0,267.0 L437.4,262.5 L437.9,264.3 L438.8,327.9 L439.5,360.4 L440.2,388.7 L441.1,420.5 L441.6,442.2 L443.0,479.0 L443.1,480.5 L444.4,523.6 L445.1,540.6 L445.8,555.7 L447.2,584.3 L447.5,589.3 M475.1,589.3 L476.5,575.8 L477.9,560.7 L477.9,560.6 L479.3,550.4 L480.3,540.6 L480.7,538.9 L482.1,535.2 L483.1,528.6 L483.5,524.7 L484.9,512.3 L485.9,500.6 L486.3,495.7 L487.7,484.5 L489.1,460.7 L489.1,460.5 L490.5,426.9 L491.1,400.4 L491.9,369.2 L493.1,320.3 L493.3,326.1 L494.3,296.3 L494.7,301.3 L495.5,312.3 L496.1,307.9 L497.1,280.3 L497.5,266.8 L498.9,225.2 L499.1,208.2 L500.3,149.6 L500.3,148.1 L501.7,158.2 L501.9,144.1 L503.1,141.2 L503.5,140.1 L504.5,139.5 L505.1,120.1 L505.9,90.5 L506.7,58.0 L507.3,92.8 L508.3,120.1 L508.7,150.7 L509.1,188.2 L509.9,232.2 L510.1,253.7 L510.7,288.3 L511.5,356.4 L511.5,360.4 L512.9,420.3 L513.1,420.5 L514.3,443.5 L515.1,460.5 L515.7,475.7 L517.1,499.5 L517.1,500.6 L518.5,521.3 L519.9,534.9 L520.4,540.6 L521.3,558.2 L522.7,581.3 L523.2,589.3 M551.0,589.3 L552.4,577.5 L553.8,564.2 L554.2,560.6 L555.2,556.2 L556.6,546.9 L557.0,544.6 L558.0,540.0 L559.4,530.9 L559.8,528.6 L560.8,522.2 L562.2,507.7 L563.0,500.6 L563.6,495.5 L565.0,467.5 L565.4,460.5 L566.4,440.9 L567.8,400.9 L567.8,400.4 L569.2,341.8 L569.4,320.3 L570.2,288.3 L570.6,295.8 L571.8,320.3 L572.0,328.7 L573.0,300.3 L573.4,269.2 L574.2,200.2 L574.8,164.9 L575.0,144.1 L576.2,170.5 L576.6,180.2 L577.6,204.3 L578.2,208.2 L579.0,246.6 L579.0,248.2 L580.2,192.2 L580.4,185.4 L581.0,120.1 L581.8,76.2 L581.8,74.0 L583.0,100.1 L583.2,114.9 L584.6,119.6 L584.6,120.1 L585.9,136.1 L586.0,147.7 L587.1,180.2 L587.4,224.8 L587.9,280.3 L588.8,366.6 L589.1,380.4 L590.2,415.0 L591.1,440.5 L591.6,458.3 L593.0,479.5 L593.1,480.5 L594.3,500.6 L594.4,507.3 L595.8,539.3 L595.9,540.6 L597.2,569.0 L598.3,589.3 M624.3,589.3 L625.7,575.5 L627.1,560.7 L627.1,560.6 L628.5,553.0 L629.9,543.1 L630.3,540.6 L631.3,536.8 L632.7,526.9 L633.1,524.6 L634.1,522.9 L635.5,510.9 L635.9,508.6 L636.9,500.4 L638.3,480.7 L638.3,480.5 L639.7,433.6 L640.3,400.4 L641.1,369.2 L641.9,336.4 L642.5,333.7 L643.1,320.3 L643.9,330.1 L644.7,340.4 L645.3,344.2 L646.3,312.3 L646.7,300.2 L647.9,260.3 L648.1,272.3 L649.5,311.3 L649.5,312.3 L650.9,297.2 L651.1,280.3 L652.3,251.1 L652.7,240.2 L653.7,219.7 L653.9,208.2 L655.1,146.1 L655.1,144.1 L656.3,220.2 L656.5,239.8 L657.5,280.3 L657.9,289.9 L658.7,312.3 L659.3,302.8 L659.9,280.3 L660.7,289.8 L661.5,300.3 L662.1,317.8 L663.1,320.3 L663.5,326.7 L664.9,357.4 L665.1,356.4 L666.3,381.7 L667.1,400.4 L667.7,424.6 L668.8,460.5 L669.1,469.2 L670.4,500.6 L670.5,506.5 L671.9,522.6 L673.2,540.6 L673.3,545.0 L674.7,567.4 L676.0,589.3 M698.9,589.3 L700.3,576.1 L701.2,566.8 L701.7,559.8 L702.8,543.8 L703.1,546.5 L704.5,545.9 L705.5,547.1 L705.9,545.8 L707.3,536.6 L707.8,534.0 L708.7,529.4 L710.1,517.5 L710.1,517.1 L711.5,502.8 L712.7,484.7 L712.9,481.2 L714.3,460.5 L714.7,451.9 L715.7,425.8 L716.6,402.6 L717.1,397.9 L718.3,369.8 L718.5,373.6 L719.3,386.2 L719.9,373.8 L720.6,337.0 L721.3,318.7 L721.9,304.1 L722.7,318.5 L723.2,310.7 L724.1,283.5 L724.5,271.3 L725.5,243.2 L725.8,222.1 L726.8,189.2 L726.9,190.2 L727.8,199.1 L728.3,203.6 L729.1,182.7 L729.7,206.5 L730.1,222.1 L731.1,254.9 L731.1,268.1 L732.4,258.2 L732.5,255.9 L733.9,234.7 L734.0,225.4 L735.0,254.9 L735.3,265.7 L736.3,304.1 L736.7,321.3 L737.6,337.0 L738.1,348.5 L739.0,369.8 L739.5,366.2 L740.6,343.5 L740.9,361.9 L741.6,402.6 L742.3,438.0 L742.9,451.9 L743.7,476.1 L744.5,501.1 L745.1,517.5 L746.5,550.3 L746.5,550.4 L747.9,574.6 L748.8,589.3 M773.4,589.3 L774.8,576.0 L775.7,566.8 L776.2,562.6 L777.6,552.6 L777.7,550.4 L779.0,540.9 L780.0,534.0 L780.4,532.4 L781.8,520.9 L782.3,517.5 L783.2,515.1 L784.6,500.0 L784.9,497.8 L786.0,495.6 L787.2,484.7 L787.4,482.2 L788.8,472.3 L789.2,461.7 L790.2,445.1 L790.8,435.5 L791.6,404.1 L792.1,369.8 L793.0,314.4 L793.5,287.7 L794.4,264.6 L794.8,238.5 L795.8,225.2 L796.1,222.1 L797.2,257.9 L797.4,254.9 L798.4,225.4 L798.6,232.8 L799.7,264.8 L800.0,274.9 L800.7,264.8 L801.4,249.7 L802.0,238.5 L802.8,231.1 L803.3,208.9 L804.2,220.5 L804.6,225.4 L805.6,268.2 L805.9,264.8 L807.0,297.7 L807.2,304.1 L808.4,342.0 L808.6,337.0 L809.8,337.0 L809.9,337.0 L811.2,310.7 L811.2,317.6 L812.5,343.5 L812.6,349.5 L813.8,402.6 L814.0,418.7 L815.1,435.5 L815.4,445.7 L816.8,494.1 L817.1,501.1 L818.2,517.4 L819.4,534.0 L819.6,538.8 L821.0,557.4 L821.7,566.8 L822.4,575.7 L823.7,589.3 M847.6,589.3 L849.0,576.2 L849.9,566.8 L850.4,562.6 L851.8,552.2 L851.9,550.4 L853.2,546.6 L854.2,543.8 L854.6,541.6 L856.0,530.7 L856.5,527.4 L857.4,529.7 L858.8,524.5 L859.1,524.1 L860.2,523.0 L861.6,517.8 L861.7,517.5 L863.0,493.5 L864.0,468.3 L864.4,456.7 L865.7,419.1 L865.8,417.9 L866.6,373.1 L867.2,380.9 L868.3,396.1 L868.6,397.3 L869.6,386.2 L870.0,376.1 L870.9,353.4 L871.4,339.6 L872.2,287.7 L872.8,270.4 L873.9,238.5 L874.2,247.0 L875.5,228.6 L875.6,229.8 L876.8,245.1 L877.0,259.7 L878.1,271.3 L878.4,261.3 L879.4,222.1 L879.8,223.5 L880.8,182.7 L881.2,183.8 L882.1,186.0 L882.6,217.2 L883.4,238.5 L884.0,269.3 L884.7,304.1 L885.4,346.3 L886.0,369.8 L886.8,383.6 L887.3,392.8 L888.2,427.4 L888.6,435.5 L889.6,451.5 L890.6,468.3 L891.0,481.6 L892.4,498.2 L892.6,501.1 L893.8,526.9 L895.2,550.3 L895.2,550.4 L896.6,572.0 L897.8,589.3" fill="none" stroke="#2660a6" stroke-width="1.8" stroke-linejoin="round"/>
<line x1="93.5" y1="706.5" x2="93.5" y2="1298.1" stroke="#4d4d4d" stroke-width="1.3"/>
<line x1="81.5" y1="1292.6" x2="914.0999999999999" y2="1292.6" stroke="#4d4d4d" stroke-width="1.3"/>
<line x1="82.0" y1="1292.6" x2="93.5" y2="1292.6" stroke="#4d4d4d" stroke-width="1.3"/>
<line x1="88.0" y1="1208.9" x2="93.5" y2="1208.9" stroke="#4d4d4d" stroke-width="1.3"/>
<line x1="82.0" y1="1125.2" x2="93.5" y2="1125.2" stroke="#4d4d4d" stroke-width="1.3"/>
<line x1="88.0" y1="1041.5" x2="93.5" y2="1041.5" stroke="#4d4d4d" stroke-width="1.3"/>
<line x1="82.0" y1="957.8" x2="93.5" y2="957.8" stroke="#4d4d4d" stroke-width="1.3"/>
<line x1="88.0" y1="874.1" x2="93.5" y2="874.1" stroke="#4d4d4d" stroke-width="1.3"/>
<line x1="82.0" y1="790.4" x2="93.5" y2="790.4" stroke="#4d4d4d" stroke-width="1.3"/>
<line x1="88.0" y1="706.7" x2="93.5" y2="706.7" stroke="#4d4d4d" stroke-width="1.3"/>
<text x="48.84" y="1303.30" font-size="31.4" font-family="Liberation Sans, sans-serif" fill="#111111">0</text>
<text x="48.84" y="1135.90" font-size="31.4" font-family="Liberation Sans, sans-serif" fill="#111111"> </text>
<path d="M763,0L583,0L583,1147C540,1106 483,1064 413,1023C343,982 280,951 223,930L223,1104C324,1151 412,1208 487,1276C562,1344 616,1409 647,1472L763,1472Z" transform="translate(48.84 1135.90) scale(0.01533 -0.01533)" fill="#111111"/>
<text x="48.84" y="968.50" font-size="31.4" font-family="Liberation Sans, sans-serif" fill="#111111">2</text>
<text x="48.84" y="801.10" font-size="31.4" font-family="Liberation Sans, sans-serif" fill="#111111">3</text>
<line x1="93.5" y1="1292.6" x2="93.5" y2="1298.1" stroke="#4d4d4d" stroke-width="1.3"/>
<line x1="168.1" y1="1292.6" x2="168.1" y2="1303.6" stroke="#4d4d4d" stroke-width="1.3"/>
<text x="133.17" y="1342.50" font-size="31.4" font-family="Liberation Sans, sans-serif" fill="#111111">2004</text>
<line x1="242.7" y1="1292.6" x2="242.7" y2="1298.1" stroke="#4d4d4d" stroke-width="1.3"/>
<line x1="317.3" y1="1292.6" x2="317.3" y2="1303.6" stroke="#4d4d4d" stroke-width="1.3"/>
<text x="282.37" y="1342.50" font-size="31.4" font-family="Liberation Sans, sans-serif" fill="#111111">2006</text>
<line x1="391.9" y1="1292.6" x2="391.9" y2="1298.1" stroke="#4d4d4d" stroke-width="1.3"/>
<line x1="466.5" y1="1292.6" x2="466.5" y2="1303.6" stroke="#4d4d4d" stroke-width="1.3"/>
<text x="431.57" y="1342.50" font-size="31.4" font-family="Liberation Sans, sans-serif" fill="#111111">2008</text>
<line x1="541.1" y1="1292.6" x2="541.1" y2="1298.1" stroke="#4d4d4d" stroke-width="1.3"/>
<line x1="615.7" y1="1292.6" x2="615.7" y2="1303.6" stroke="#4d4d4d" stroke-width="1.3"/>
<text x="580.77" y="1342.50" font-size="31.4" font-family="Liberation Sans, sans-serif" fill="#111111">20 0</text>
<path d="M763,0L583,0L583,1147C540,1106 483,1064 413,1023C343,982 280,951 223,930L223,1104C324,1151 412,1208 487,1276C562,1344 616,1409 647,1472L763,1472Z" transform="translate(615.70 1342.50) scale(0.01533 -0.01533)" fill="#111111"/>
<line x1="690.3" y1="1292.6" x2="690.3" y2="1298.1" stroke="#4d4d4d" stroke-width="1.3"/>
<line x1="764.9" y1="1292.6" x2="764.9" y2="1303.6" stroke="#4d4d4d" stroke-width="1.3"/>
<text x="729.97" y="1342.50" font-size="31.4" font-family="Liberation Sans, sans-serif" fill="#111111">20 2</text>
<path d="M763,0L583,0L583,1147C540,1106 483,1064 413,1023C343,982 280,951 223,930L223,1104C324,1151 412,1208 487,1276C562,1344 616,1409 647,1472L763,1472Z" transform="translate(764.90 1342.50) scale(0.01533 -0.01533)" fill="#111111"/>
<line x1="839.5" y1="1292.6" x2="839.5" y2="1298.1" stroke="#4d4d4d" stroke-width="1.3"/>
<line x1="914.1" y1="1292.6" x2="914.1" y2="1303.6" stroke="#4d4d4d" stroke-width="1.3"/>
<text x="879.17" y="1342.50" font-size="31.4" font-family="Liberation Sans, sans-serif" fill="#111111">20 4</text>
<path d="M763,0L583,0L583,1147C540,1106 483,1064 413,1023C343,982 280,951 223,930L223,1104C324,1151 412,1208 487,1276C562,1344 616,1409 647,1472L763,1472Z" transform="translate(914.10 1342.50) scale(0.01533 -0.01533)" fill="#111111"/>
<text x="503.6" y="1380.9" text-anchor="middle" font-size="31" font-family="Liberation Sans, sans-serif" fill="#111111">Year</text>
<text x="0.0" y="729.0" font-size="34.5" font-weight="bold" font-family="Liberation Sans, sans-serif" fill="#000" stroke="#000" stroke-width="0.9">B</text>
<text transform="translate(34 1005.5) rotate(-90)" text-anchor="middle" font-size="31.5" font-family="Liberation Sans, sans-serif" fill="#111111">PP [g C m<tspan font-size="22" dy="-14">-2</tspan><tspan dy="14"> d</tspan><tspan font-size="22" dy="-14">-1</tspan><tspan dy="14">]</tspan></text>
<line x1="115.6" y1="723.4" x2="174" y2="723.4" stroke="#111111" stroke-width="1.8" stroke-dasharray="8.5 7.5"/>
<text x="188.70" y="732.30" font-size="23.5" font-family="Liberation Sans, sans-serif" fill="#111111">4</text>
<text x="201.77" y="732.3" font-size="23.5" font-family="Liberation Sans, sans-serif" fill="#111111"> Northern open shelf</text>
<line x1="115.6" y1="756.9" x2="174" y2="756.9" stroke="#b0183c" stroke-width="1.8" stroke-dasharray="8.5 7.5"/>
<text x="188.70" y="766.00" font-size="23.5" font-family="Liberation Sans, sans-serif" fill="#ae1c40">5</text>
<text x="201.77" y="766.0" font-size="23.5" font-family="Liberation Sans, sans-serif" fill="#ae1c40"> East Greenland shelf</text>
<line x1="115.6" y1="790.5" x2="174" y2="790.5" stroke="#2660a6" stroke-width="1.8" stroke-dasharray="8.5 7.5"/>
<text x="188.70" y="799.00" font-size="23.5" font-family="Liberation Sans, sans-serif" fill="#2b62a6">6</text>
<text x="201.77" y="799.0" font-size="23.5" font-family="Liberation Sans, sans-serif" fill="#2b62a6"> Norwegian shelf</text>
<line x1="150.7" y1="1292.3" x2="180.1" y2="1292.3" stroke="#333a48" stroke-width="1.7"/>
<line x1="224.0" y1="1292.3" x2="255.0" y2="1292.3" stroke="#333a48" stroke-width="1.7"/>
<line x1="298.8" y1="1292.3" x2="328.3" y2="1292.3" stroke="#333a48" stroke-width="1.7"/>
<line x1="374.0" y1="1292.3" x2="403.2" y2="1292.3" stroke="#333a48" stroke-width="1.7"/>
<line x1="448.8" y1="1292.3" x2="477.6" y2="1292.3" stroke="#333a48" stroke-width="1.7"/>
<line x1="522.1" y1="1292.3" x2="553.2" y2="1292.3" stroke="#333a48" stroke-width="1.7"/>
<line x1="597.0" y1="1292.3" x2="625.4" y2="1292.3" stroke="#333a48" stroke-width="1.7"/>
<line x1="674.0" y1="1292.3" x2="700.9" y2="1292.3" stroke="#333a48" stroke-width="1.7"/>
<line x1="747.2" y1="1292.3" x2="774.8" y2="1292.3" stroke="#333a48" stroke-width="1.7"/>
<line x1="823.4" y1="1292.3" x2="848.7" y2="1292.3" stroke="#333a48" stroke-width="1.7"/>
<path d="M104.0,1292.3 L105.0,1291.0 L106.0,1289.3 L107.0,1288.5 L108.0,1286.2 L109.0,1286.2 L110.0,1283.2 L111.0,1282.9 L111.3,1281.2 L112.0,1280.2 L113.0,1280.1 L114.0,1277.1 L115.0,1277.8 L116.0,1273.9 L117.0,1275.8 L117.9,1270.9 L118.0,1268.1 L119.0,1241.8 L119.4,1211.6 L120.0,1196.5 L120.9,1174.9 L121.0,1194.0 L122.0,1123.7 L122.3,1108.9 L123.0,1162.5 L124.0,1152.4 L124.2,1156.6 L125.0,1197.1 L126.0,1193.2 L126.0,1193.3 L127.0,1207.5 L127.8,1204.2 L128.0,1203.2 L129.0,1206.5 L129.7,1193.2 L130.0,1194.6 L131.0,1211.7 L131.5,1200.6 L132.0,1194.5 L133.0,1191.8 L133.3,1178.6 L134.0,1175.9 L135.0,1191.4 L135.2,1171.2 L136.0,1178.0 L137.0,1185.9 L137.0,1205.8 L138.0,1189.9 L138.8,1193.2 L139.0,1201.3 L140.0,1183.8 L140.7,1178.6 L141.0,1194.6 L142.0,1194.7 L142.5,1200.6 L143.0,1213.8 L144.0,1209.6 L144.3,1211.6 L145.0,1223.3 L146.0,1221.6 L146.2,1222.6 L147.0,1244.5 L148.0,1248.2 L148.0,1248.4 L149.0,1270.1 L149.8,1281.2 L150.0,1282.3 L151.0,1288.8 L151.7,1292.3 M179.1,1292.3 L180.1,1290.0 L181.1,1286.2 L182.1,1284.1 L182.8,1281.2 L183.1,1280.5 L184.1,1280.1 L185.1,1276.5 L186.1,1276.3 L186.5,1273.9 L187.1,1271.9 L188.1,1271.2 L189.1,1265.9 L190.1,1262.9 L190.1,1269.3 L191.1,1266.9 L192.0,1270.2 L192.1,1271.1 L193.1,1265.8 L194.1,1268.5 L194.9,1259.2 L195.1,1256.5 L196.1,1249.6 L197.1,1233.6 L197.5,1229.9 L198.1,1239.9 L199.1,1217.9 L200.0,1211.6 L200.1,1222.6 L201.1,1206.0 L202.1,1207.1 L202.2,1200.6 L203.1,1198.0 L204.1,1201.7 L204.8,1193.2 L205.1,1194.6 L206.1,1215.9 L206.6,1200.6 L207.1,1196.5 L208.1,1205.8 L208.5,1185.9 L209.1,1183.2 L210.1,1194.7 L210.3,1178.6 L211.1,1175.2 L212.1,1171.2 L212.1,1188.4 L213.1,1173.2 L214.0,1174.9 L214.1,1185.4 L215.1,1186.7 L215.8,1193.2 L216.1,1214.2 L217.1,1209.3 L217.6,1215.2 L218.1,1228.4 L219.1,1227.3 L219.5,1229.9 L220.1,1247.5 L221.1,1250.0 L221.3,1251.9 L222.1,1266.2 L223.1,1277.5 L223.1,1277.6 L224.1,1286.9 L225.0,1292.3 M254.0,1292.3 L255.0,1285.7 L255.8,1277.5 L256.0,1277.5 L257.0,1278.0 L258.0,1276.5 L259.0,1279.0 L259.5,1275.7 L260.0,1276.1 L261.0,1279.7 L262.0,1277.5 L262.1,1277.5 L263.0,1276.6 L264.0,1267.9 L264.3,1266.5 L265.0,1261.1 L265.7,1248.2 L266.0,1244.8 L267.0,1239.9 L267.2,1229.9 L268.0,1227.9 L268.7,1226.2 L269.0,1240.0 L270.0,1239.6 L270.1,1240.9 L271.0,1240.0 L271.6,1229.9 L272.0,1229.9 L273.0,1240.8 L273.1,1229.9 L274.0,1241.6 L274.5,1248.2 L275.0,1246.8 L276.0,1229.9 L276.0,1229.8 L277.0,1235.0 L277.8,1211.6 L278.0,1213.3 L279.0,1237.0 L279.7,1229.9 L280.0,1223.8 L281.0,1214.3 L281.5,1196.9 L282.0,1192.8 L283.0,1205.6 L283.3,1182.2 L284.0,1193.0 L285.0,1215.9 L285.2,1211.6 L286.0,1220.0 L287.0,1229.9 L287.0,1234.8 L288.0,1227.9 L288.8,1226.2 L289.0,1230.4 L290.0,1219.2 L290.7,1215.2 L291.0,1229.6 L292.0,1217.9 L292.5,1218.9 L293.0,1237.4 L294.0,1227.9 L294.3,1229.9 L295.0,1246.4 L296.0,1246.7 L296.2,1248.2 L297.0,1267.1 L298.0,1277.5 L298.0,1277.6 L299.0,1287.0 L299.8,1292.3 M329.1,1292.3 L330.1,1291.1 L331.1,1289.2 L332.1,1288.6 L332.8,1286.7 L333.1,1286.5 L334.1,1287.2 L335.1,1285.5 L336.1,1286.6 L336.5,1284.9 L337.1,1283.9 L338.1,1283.2 L339.0,1281.2 L339.1,1281.5 L340.1,1284.7 L341.1,1286.5 L341.2,1286.7 L342.1,1283.9 L343.1,1277.2 L343.8,1273.9 L344.1,1275.8 L345.1,1276.5 L345.6,1277.5 L346.1,1278.0 L347.1,1268.5 L347.5,1266.5 L348.1,1267.4 L349.1,1259.9 L349.3,1259.2 L350.1,1250.3 L351.1,1229.9 L351.1,1229.9 L352.1,1237.7 L353.0,1222.6 L353.1,1221.9 L354.1,1233.9 L354.8,1215.2 L355.1,1216.6 L356.1,1229.3 L356.6,1222.6 L357.1,1222.6 L358.1,1237.6 L358.5,1222.6 L359.1,1217.2 L360.1,1224.4 L360.3,1207.9 L361.1,1206.2 L362.1,1204.2 L362.1,1210.2 L363.1,1208.3 L364.0,1211.6 L364.1,1223.9 L365.1,1221.0 L365.8,1226.2 L366.1,1232.9 L367.1,1231.6 L367.6,1233.5 L368.1,1247.3 L369.1,1245.6 L369.5,1248.2 L370.1,1261.2 L371.1,1265.0 L371.3,1266.5 L372.1,1275.3 L373.1,1281.2 L373.1,1281.3 L374.1,1288.3 L375.0,1292.3 M403.3,1292.3 L404.3,1290.1 L405.3,1287.3 L406.3,1286.4 L407.3,1282.2 L407.7,1281.2 L408.3,1281.1 L409.3,1278.0 L410.3,1278.2 L411.3,1274.0 L411.3,1273.9 L412.3,1273.8 L413.3,1270.0 L414.3,1271.1 L415.0,1266.5 L415.3,1265.2 L416.3,1265.8 L417.3,1255.2 L418.3,1258.2 L418.7,1248.2 L419.3,1245.2 L420.3,1249.8 L421.3,1235.2 L422.3,1241.6 L422.3,1229.9 L423.3,1215.8 L424.3,1207.2 L425.3,1185.9 L425.3,1185.8 L426.3,1200.8 L426.7,1171.2 L427.3,1169.9 L428.2,1167.6 L428.3,1186.6 L429.3,1162.2 L429.7,1160.2 L430.3,1186.1 L431.1,1174.9 L431.3,1176.7 L432.3,1202.8 L432.6,1193.2 L433.3,1200.0 L434.1,1207.9 L434.3,1215.3 L435.3,1201.8 L435.5,1200.6 L436.3,1222.3 L437.0,1211.6 L437.3,1208.8 L438.3,1215.4 L438.8,1193.2 L439.3,1194.1 L440.3,1204.8 L440.7,1196.9 L441.3,1198.1 L442.3,1206.8 L442.5,1200.6 L443.3,1206.8 L444.3,1229.7 L444.3,1215.2 L445.3,1232.2 L446.2,1248.2 L446.3,1253.0 L447.3,1266.0 L448.0,1277.5 L448.3,1280.8 L449.3,1287.8 L449.8,1292.3 M478.0,1292.3 L479.0,1290.5 L480.0,1287.6 L481.0,1286.0 L482.0,1283.0 L482.8,1281.2 L483.0,1282.8 L484.0,1278.7 L485.0,1279.2 L486.0,1274.7 L486.5,1273.9 L487.0,1275.5 L488.0,1270.7 L489.0,1273.9 L490.0,1266.7 L490.1,1266.5 L491.0,1266.7 L492.0,1252.9 L492.7,1248.2 L493.0,1248.7 L494.0,1237.1 L494.9,1229.9 L495.0,1236.5 L496.0,1213.6 L497.0,1213.5 L497.5,1193.2 L498.0,1181.8 L499.0,1178.8 L499.3,1156.6 L500.0,1143.6 L500.8,1130.9 L501.0,1163.7 L502.0,1146.8 L502.2,1149.2 L503.0,1172.2 L503.7,1174.9 L504.0,1177.4 L505.0,1200.7 L505.2,1185.9 L506.0,1185.9 L506.6,1185.9 L507.0,1205.1 L508.0,1191.5 L508.5,1193.2 L509.0,1214.9 L510.0,1199.5 L510.3,1200.6 L511.0,1222.6 L512.0,1211.0 L512.1,1211.6 L513.0,1223.6 L514.0,1222.6 L514.0,1222.9 L515.0,1234.5 L515.8,1229.9 L516.0,1232.3 L517.0,1252.2 L517.6,1248.2 L518.0,1252.3 L519.0,1265.8 L519.5,1266.5 L520.0,1271.2 L521.0,1281.3 L521.3,1281.2 L522.0,1285.7 L523.0,1291.9 L523.1,1292.3 M553.3,1292.3 L554.3,1290.9 L555.3,1288.9 L556.3,1288.1 L557.3,1285.5 L557.7,1284.9 L558.3,1285.6 L559.3,1283.3 L560.3,1284.4 L561.3,1281.3 L561.3,1281.2 L562.3,1282.0 L563.3,1277.3 L564.3,1278.0 L565.0,1273.9 L565.3,1273.2 L566.3,1272.3 L567.3,1268.2 L567.9,1266.5 L568.3,1264.9 L569.3,1244.3 L570.1,1229.9 L570.3,1236.8 L571.3,1187.2 L571.6,1174.9 L572.3,1170.2 L573.1,1138.2 L573.3,1135.7 L574.3,1157.3 L574.5,1119.9 L575.3,1116.2 L576.0,1112.6 L576.3,1132.5 L577.3,1125.3 L577.5,1127.2 L578.3,1153.5 L578.9,1138.2 L579.3,1142.5 L580.3,1170.6 L580.4,1156.6 L581.3,1167.5 L581.9,1174.9 L582.3,1188.0 L583.3,1192.5 L583.3,1193.2 L584.3,1216.8 L584.8,1218.9 L585.3,1210.6 L586.3,1193.2 L586.3,1204.8 L587.3,1180.6 L587.7,1174.9 L588.3,1192.8 L589.2,1185.9 L589.3,1186.3 L590.3,1202.9 L590.7,1193.2 L591.3,1199.3 L592.3,1222.7 L592.5,1211.6 L593.3,1227.1 L594.3,1256.2 L594.3,1248.2 L595.3,1263.3 L596.2,1277.5 L596.3,1279.6 L597.3,1286.5 L598.0,1292.3 M626.6,1292.3 L627.6,1290.8 L628.6,1288.9 L629.6,1288.1 L630.6,1285.5 L631.0,1284.9 L631.6,1285.6 L632.6,1283.3 L633.6,1283.9 L634.6,1281.3 L634.6,1281.2 L635.6,1280.4 L636.6,1276.4 L637.6,1273.9 L637.6,1275.6 L638.6,1268.1 L639.6,1264.6 L640.1,1259.2 L640.6,1254.2 L641.6,1253.3 L642.6,1231.4 L642.7,1229.9 L643.6,1230.1 L644.6,1198.7 L644.9,1193.2 L645.6,1198.0 L646.4,1163.9 L646.6,1162.9 L647.6,1184.2 L647.8,1156.6 L648.6,1165.8 L649.3,1174.9 L649.6,1191.6 L650.6,1190.8 L650.8,1193.2 L651.6,1219.6 L652.2,1211.6 L652.6,1205.6 L653.6,1208.4 L653.7,1185.9 L654.6,1179.3 L655.2,1174.9 L655.6,1203.8 L656.6,1192.5 L656.6,1193.2 L657.6,1219.4 L658.5,1211.6 L658.6,1210.5 L659.6,1216.7 L660.3,1193.2 L660.6,1196.0 L661.6,1214.6 L662.1,1211.6 L662.6,1214.2 L663.6,1231.8 L664.0,1222.6 L664.6,1225.0 L665.6,1236.6 L665.8,1229.9 L666.6,1237.7 L667.6,1253.5 L667.6,1248.2 L668.6,1257.7 L669.5,1266.5 L669.6,1272.1 L670.6,1275.4 L671.3,1281.2 L671.6,1285.0 L672.6,1288.9 L673.1,1292.3 M700.6,1292.3 L701.6,1290.4 L702.6,1288.1 L703.6,1286.8 L704.4,1284.3 L704.6,1284.1 L705.6,1284.2 L706.6,1282.1 L707.6,1282.0 L708.2,1280.5 L708.6,1280.1 L709.6,1281.2 L710.6,1278.1 L711.6,1279.0 L712.0,1276.7 L712.6,1276.1 L713.6,1278.7 L714.6,1274.1 L715.6,1276.5 L715.9,1272.9 L716.6,1271.3 L717.6,1273.5 L718.6,1267.3 L719.6,1268.4 L719.7,1265.2 L720.6,1259.3 L721.6,1257.8 L722.6,1246.8 L722.7,1246.2 L723.6,1248.1 L724.6,1230.3 L725.0,1227.1 L725.6,1227.0 L726.5,1208.1 L726.6,1208.6 L727.6,1230.8 L728.0,1215.7 L728.6,1217.1 L729.6,1219.5 L729.6,1224.6 L730.6,1211.7 L731.1,1208.1 L731.6,1215.5 L732.6,1204.3 L732.6,1204.3 L733.6,1228.3 L734.1,1219.5 L734.6,1221.9 L735.6,1240.2 L735.7,1227.1 L736.6,1222.4 L737.2,1219.5 L737.6,1236.9 L738.6,1226.7 L738.7,1227.1 L739.6,1237.9 L740.6,1234.8 L740.6,1234.8 L741.6,1251.9 L742.5,1246.2 L742.6,1247.1 L743.6,1261.3 L744.4,1265.2 L744.6,1267.1 L745.6,1279.3 L746.3,1284.3 L746.6,1285.5 L747.6,1290.0 L748.2,1292.3 M774.9,1292.3 L775.9,1291.4 L776.9,1290.1 L777.9,1289.8 L778.7,1288.1 L778.9,1288.0 L779.9,1288.5 L780.9,1287.0 L781.9,1287.6 L782.5,1286.2 L782.9,1286.0 L783.9,1286.8 L784.9,1285.0 L785.9,1285.7 L786.3,1284.3 L786.9,1283.7 L787.9,1284.4 L788.9,1281.7 L789.9,1282.6 L790.1,1280.5 L790.9,1278.3 L791.9,1277.4 L792.8,1272.9 L792.9,1272.5 L793.9,1274.2 L794.9,1265.9 L795.1,1265.2 L795.9,1265.5 L796.9,1253.2 L797.4,1250.0 L797.9,1252.3 L798.9,1234.8 L798.9,1234.8 L799.9,1233.9 L800.4,1219.5 L800.9,1216.0 L801.9,1224.2 L802.0,1208.1 L802.9,1193.8 L803.5,1185.2 L803.9,1198.4 L804.9,1203.1 L805.0,1204.3 L805.9,1225.6 L806.5,1211.9 L806.9,1213.8 L807.9,1223.9 L808.0,1219.5 L808.9,1217.4 L809.6,1215.7 L809.9,1223.2 L810.9,1219.0 L811.1,1219.5 L811.9,1231.2 L812.9,1212.3 L813.0,1211.9 L813.9,1227.2 L814.9,1215.7 L814.9,1215.7 L815.9,1238.2 L816.8,1234.8 L816.9,1235.5 L817.9,1253.0 L818.7,1250.0 L818.9,1251.5 L819.9,1265.3 L820.6,1265.2 L820.9,1268.1 L821.9,1279.2 L822.5,1284.3 L822.9,1285.9 L823.9,1290.6 L824.4,1292.3 M848.4,1292.3 L849.4,1290.5 L850.4,1288.5 L851.3,1286.7 L851.4,1287.2 L852.4,1285.1 L853.4,1284.6 L854.4,1282.1 L855.0,1281.2 L855.4,1282.9 L856.4,1279.8 L857.4,1281.3 L858.4,1277.8 L858.7,1277.5 L859.4,1277.6 L860.4,1272.3 L861.4,1271.7 L862.3,1266.5 L862.4,1266.4 L863.4,1269.1 L864.4,1262.4 L865.4,1264.1 L866.0,1259.2 L866.4,1258.0 L867.4,1259.0 L868.4,1252.0 L869.4,1258.4 L869.6,1248.2 L870.4,1242.1 L871.4,1242.9 L871.8,1229.9 L872.4,1223.1 L873.3,1211.6 L873.4,1220.5 L874.4,1200.8 L875.1,1193.2 L875.4,1201.9 L876.4,1188.3 L877.0,1185.9 L877.4,1192.4 L878.4,1175.3 L878.4,1174.9 L879.4,1179.9 L879.9,1163.9 L880.4,1169.8 L881.4,1182.2 L881.4,1195.9 L882.4,1189.8 L882.8,1193.2 L883.4,1203.3 L884.3,1174.9 L884.4,1175.9 L885.4,1196.1 L885.8,1193.2 L886.4,1197.8 L887.2,1204.2 L887.4,1221.0 L888.4,1209.9 L888.7,1211.6 L889.4,1209.4 L890.2,1193.2 L890.4,1194.8 L891.4,1220.5 L891.6,1204.2 L892.4,1211.7 L893.4,1230.0 L893.5,1222.6 L894.4,1235.3 L895.3,1248.2 L895.4,1256.2 L896.4,1269.8 L897.4,1290.2 L897.5,1292.3" fill="none" stroke="#b0183c" stroke-width="1.5" stroke-linejoin="round" stroke-dasharray="8 6"/>
<path d="M104.0,1292.3 L105.0,1288.2 L106.0,1278.2 L107.0,1277.1 L107.7,1266.5 L108.0,1264.9 L109.0,1265.7 L110.0,1254.9 L111.0,1256.7 L111.3,1248.2 L112.0,1235.7 L113.0,1241.7 L114.0,1198.2 L114.3,1193.2 L115.0,1218.0 L116.0,1143.6 L116.8,1119.9 L117.0,1144.9 L118.0,1096.5 L118.7,1083.3 L119.0,1144.1 L120.0,1056.5 L120.5,1046.6 L121.0,1060.0 L122.0,1016.5 L122.3,1009.9 L123.0,1050.4 L124.0,976.5 L124.2,973.3 L125.0,1021.9 L126.0,955.0 L126.0,954.9 L127.0,969.5 L127.8,922.0 L128.0,925.8 L129.0,987.3 L129.7,962.3 L130.0,965.7 L131.0,1006.3 L131.5,980.6 L132.0,985.7 L133.0,1027.6 L133.3,998.9 L134.0,1003.0 L135.0,1063.6 L135.2,1009.9 L136.0,1006.6 L137.0,1002.6 L137.0,1054.7 L138.0,1016.7 L138.8,1028.3 L139.0,1074.2 L140.0,1040.0 L140.7,1046.6 L141.0,1075.4 L142.0,1052.0 L142.5,1053.9 L143.0,1082.3 L144.0,1066.0 L144.3,1068.6 L145.0,1119.9 L146.0,1098.8 L146.2,1101.6 L147.0,1171.7 L148.0,1156.6 L148.0,1157.2 L149.0,1225.2 L149.8,1248.2 L150.0,1252.5 L151.0,1282.5 L151.7,1292.3 M181.0,1292.3 L182.0,1285.8 L183.0,1274.7 L183.9,1266.5 L184.0,1271.0 L185.0,1251.3 L186.0,1245.9 L186.5,1229.9 L187.0,1226.3 L188.0,1242.5 L189.0,1212.0 L189.0,1211.6 L190.0,1232.4 L191.0,1179.3 L191.2,1174.9 L192.0,1190.9 L193.0,1122.8 L193.1,1119.9 L194.0,1111.1 L194.9,1046.6 L195.0,1043.4 L196.0,1057.8 L196.4,980.6 L197.0,965.5 L197.8,944.0 L198.0,969.5 L199.0,932.6 L199.3,929.3 L200.0,987.7 L201.0,942.7 L201.1,944.0 L202.0,997.9 L203.0,911.0 L203.0,911.1 L204.0,964.0 L204.8,955.0 L205.0,958.4 L206.0,1037.0 L206.6,991.6 L207.0,993.7 L208.0,1064.1 L208.5,1002.6 L209.0,1006.7 L210.0,1082.9 L210.3,1017.3 L211.0,1022.7 L212.0,1073.1 L212.1,1031.9 L213.0,1038.7 L214.0,1046.6 L214.0,1081.9 L215.0,1050.6 L215.8,1053.9 L216.0,1106.0 L217.0,1072.7 L217.6,1083.3 L218.0,1133.4 L219.0,1110.1 L219.5,1119.9 L220.0,1192.4 L221.0,1165.2 L221.3,1174.9 L222.0,1227.6 L223.0,1242.0 L223.1,1248.2 L224.0,1273.8 L225.0,1292.3 M254.0,1292.3 L255.0,1285.5 L256.0,1274.7 L256.9,1266.5 L257.0,1272.8 L258.0,1243.7 L259.0,1231.7 L259.5,1211.6 L260.0,1196.5 L261.0,1198.3 L261.3,1156.6 L262.0,1129.8 L263.0,1117.4 L263.2,1083.3 L264.0,1055.4 L264.3,1046.6 L265.0,1077.7 L265.7,1009.9 L266.0,992.0 L266.8,936.6 L267.0,982.0 L267.9,881.6 L268.0,876.7 L268.7,830.3 L269.0,938.1 L269.4,918.3 L270.0,948.5 L270.5,973.3 L271.0,1048.4 L271.6,1046.6 L272.0,1061.8 L273.0,1137.8 L273.1,1101.6 L274.0,1136.8 L274.5,1156.6 L275.0,1167.4 L276.0,1119.9 L276.0,1119.8 L277.0,1125.7 L277.8,1075.9 L278.0,1073.2 L279.0,1112.1 L279.7,1046.6 L280.0,1053.4 L281.0,1095.3 L281.5,1083.3 L282.0,1093.4 L283.0,1177.1 L283.3,1119.9 L284.0,1133.4 L285.0,1189.8 L285.2,1156.6 L286.0,1131.3 L287.0,1101.6 L287.0,1158.0 L288.0,1091.5 L288.8,1083.3 L289.0,1155.2 L290.0,1106.8 L290.7,1119.9 L291.0,1156.3 L292.0,1133.3 L292.5,1138.2 L293.0,1204.8 L294.0,1168.4 L294.3,1174.9 L295.0,1228.6 L296.0,1225.2 L296.2,1229.9 L297.0,1259.3 L298.0,1266.5 L298.0,1266.7 L299.0,1282.5 L299.8,1292.3 M329.1,1292.3 L330.1,1287.9 L331.1,1278.2 L332.1,1274.3 L332.8,1266.5 L333.1,1264.9 L334.1,1270.1 L335.1,1254.9 L336.1,1258.9 L336.5,1248.2 L337.1,1241.5 L338.1,1245.5 L338.3,1229.9 L339.1,1216.5 L340.1,1200.6 L340.1,1235.6 L341.1,1156.4 L342.0,1119.9 L342.1,1171.6 L343.1,1096.5 L343.8,1083.3 L344.1,1099.5 L345.1,1056.5 L345.6,1046.6 L346.1,1089.1 L347.1,1016.5 L347.5,1009.9 L348.1,974.0 L348.6,903.6 L349.1,958.0 L349.3,973.3 L350.1,1057.1 L350.4,1028.3 L351.1,1037.5 L351.9,1046.6 L352.1,1079.2 L353.0,1057.6 L353.1,1060.0 L354.1,1134.6 L354.8,1083.3 L355.1,1079.9 L356.1,1109.7 L356.6,1064.9 L357.1,1070.0 L358.1,1111.3 L358.5,1083.3 L359.1,1090.0 L360.1,1127.2 L360.3,1101.6 L361.1,1110.0 L362.1,1119.9 L362.1,1152.8 L363.1,1103.8 L364.0,1090.6 L364.1,1136.3 L365.1,1109.4 L365.8,1119.9 L366.1,1171.2 L367.1,1146.8 L367.6,1156.6 L368.1,1194.6 L369.1,1186.8 L369.5,1193.2 L370.1,1223.8 L371.1,1243.5 L371.3,1248.2 L372.1,1267.3 L373.1,1277.5 L373.1,1277.6 L374.1,1287.6 L375.0,1292.3 M403.3,1292.3 L404.3,1282.9 L405.3,1269.4 L405.8,1262.9 L406.3,1267.1 L407.3,1258.8 L408.3,1260.5 L408.4,1255.5 L409.3,1253.4 L410.3,1266.2 L411.3,1248.4 L411.3,1248.2 L412.3,1238.8 L413.2,1211.6 L413.3,1209.5 L414.3,1220.9 L415.0,1174.9 L415.3,1166.8 L416.3,1156.3 L416.8,1119.9 L417.3,1102.4 L418.3,1114.5 L418.7,1046.6 L419.3,1040.6 L420.1,1031.9 L420.3,1067.2 L421.3,1057.5 L421.6,1064.9 L422.3,1132.1 L423.1,1083.3 L423.3,1088.4 L424.3,1174.5 L424.5,1119.9 L425.3,1101.4 L426.0,1083.3 L426.3,1133.5 L427.3,1073.1 L427.8,1068.6 L428.3,1140.1 L429.3,1085.9 L429.7,1090.6 L430.3,1122.8 L431.3,1116.3 L431.5,1119.9 L432.3,1176.9 L433.3,1102.2 L433.3,1101.6 L434.3,1126.4 L435.2,1108.9 L435.3,1108.7 L436.3,1162.5 L437.0,1105.2 L437.3,1107.5 L438.3,1148.7 L438.8,1119.9 L439.3,1121.7 L440.3,1147.8 L440.7,1127.2 L441.3,1132.1 L442.3,1180.2 L442.5,1141.9 L443.3,1148.1 L444.3,1180.5 L444.3,1156.6 L445.3,1175.5 L446.2,1193.2 L446.3,1226.6 L447.3,1226.6 L448.0,1248.2 L448.3,1263.6 L449.3,1279.0 L449.8,1292.3 M478.0,1292.3 L479.0,1286.2 L480.0,1274.7 L481.0,1266.5 L481.0,1272.6 L482.0,1255.9 L482.8,1248.2 L483.0,1259.9 L484.0,1235.9 L484.6,1229.9 L485.0,1247.9 L486.0,1224.3 L486.5,1222.6 L487.0,1232.7 L488.0,1213.1 L488.3,1211.6 L489.0,1215.7 L490.0,1194.2 L490.1,1193.2 L491.0,1204.1 L492.0,1119.9 L492.0,1116.4 L493.0,1131.8 L493.4,1046.6 L494.0,1016.4 L494.9,973.3 L495.0,1034.0 L496.0,905.0 L496.4,885.3 L497.0,962.7 L497.8,936.6 L498.0,941.8 L499.0,1011.5 L499.3,973.3 L500.0,980.7 L501.0,1030.5 L501.1,991.6 L502.0,1000.7 L503.0,1009.9 L503.0,1074.0 L504.0,1031.4 L504.8,1046.6 L505.0,1062.6 L506.0,1009.4 L506.6,991.6 L507.0,1026.3 L507.7,918.3 L508.0,933.7 L508.8,973.3 L509.0,1046.6 L510.0,1018.6 L510.3,1028.3 L511.0,1101.0 L512.0,1045.7 L512.1,1046.6 L513.0,1096.6 L514.0,1101.6 L514.0,1102.3 L515.0,1157.0 L515.8,1119.9 L516.0,1124.8 L517.0,1168.3 L517.6,1156.6 L518.0,1173.0 L519.0,1242.2 L519.5,1229.9 L520.0,1241.4 L521.0,1268.6 L521.3,1266.5 L522.0,1277.0 L523.0,1291.4 L523.1,1292.3 M553.3,1292.3 L554.3,1284.8 L555.3,1272.2 L555.8,1266.5 L556.3,1269.4 L557.3,1260.8 L557.7,1259.2 L558.3,1263.9 L559.3,1233.6 L559.5,1229.9 L560.3,1230.0 L561.3,1194.5 L561.3,1193.2 L562.3,1221.1 L563.2,1156.6 L563.3,1154.5 L564.3,1186.1 L565.0,1119.9 L565.3,1116.5 L566.3,1155.6 L566.5,1101.6 L567.3,1091.5 L567.9,1083.3 L568.3,1113.0 L569.3,1066.5 L569.4,1064.9 L570.3,1111.0 L570.9,1046.6 L571.3,1031.4 L572.3,1036.7 L572.3,991.6 L573.3,975.2 L573.8,966.0 L574.3,1039.9 L575.3,980.6 L575.3,980.7 L576.3,1028.2 L576.7,1009.9 L577.3,1007.2 L578.2,1002.6 L578.3,1042.9 L579.3,1021.4 L579.7,1028.3 L580.3,1063.8 L581.1,1053.9 L581.3,1056.7 L582.3,1131.4 L582.6,1083.3 L583.3,1091.7 L584.1,1101.6 L584.3,1127.7 L585.3,1092.5 L585.5,1090.6 L586.3,1144.8 L587.0,1064.9 L587.3,1070.4 L588.3,1139.2 L588.8,1101.6 L589.3,1110.4 L590.3,1166.9 L590.7,1138.2 L591.3,1150.4 L592.3,1216.2 L592.5,1174.9 L593.3,1198.2 L594.3,1243.6 L594.3,1229.9 L595.3,1248.8 L596.2,1266.5 L596.3,1271.4 L597.3,1282.2 L598.0,1292.3 M626.6,1292.3 L627.6,1285.9 L628.6,1272.2 L629.1,1266.5 L629.6,1268.4 L630.6,1252.2 L631.0,1248.2 L631.6,1260.4 L632.6,1232.2 L632.8,1229.9 L633.6,1238.3 L634.6,1212.2 L634.6,1211.6 L635.6,1219.6 L636.5,1193.2 L636.6,1192.2 L637.6,1210.1 L638.3,1174.9 L638.6,1169.5 L639.6,1195.0 L640.1,1138.2 L640.6,1129.5 L641.6,1142.5 L642.0,1101.6 L642.6,1091.0 L643.4,1075.9 L643.6,1126.5 L644.6,1053.2 L644.9,1046.6 L645.6,1058.5 L646.4,1017.3 L646.6,1025.5 L647.6,1116.2 L647.8,1075.9 L648.6,1088.9 L649.3,1101.6 L649.6,1151.4 L650.6,1111.1 L650.8,1112.6 L651.6,1179.5 L652.2,1119.9 L652.6,1115.7 L653.6,1163.3 L653.7,1101.6 L654.6,1090.7 L655.2,1083.3 L655.6,1108.1 L656.6,1065.7 L656.6,1064.9 L657.6,1134.9 L658.5,1075.9 L658.6,1077.4 L659.6,1125.2 L660.3,1101.6 L660.6,1098.8 L661.6,1117.5 L662.1,1083.3 L662.6,1092.1 L663.6,1178.6 L664.0,1119.9 L664.6,1126.0 L665.6,1159.4 L665.8,1138.2 L666.6,1146.0 L667.6,1175.0 L667.6,1156.6 L668.6,1175.5 L669.5,1193.2 L669.6,1209.3 L670.6,1226.6 L671.3,1248.2 L671.6,1262.3 L672.6,1271.2 L673.1,1281.2 L673.6,1286.8 L674.6,1290.0 L675.0,1292.3 M700.6,1292.3 L701.6,1286.0 L702.6,1274.5 L703.6,1270.1 L703.7,1265.2 L704.6,1258.4 L705.6,1260.6 L706.3,1246.2 L706.6,1244.1 L707.6,1252.7 L708.6,1229.9 L709.0,1227.1 L709.6,1236.7 L710.6,1213.7 L711.3,1208.1 L711.6,1229.0 L712.6,1185.9 L713.6,1170.0 L713.6,1212.7 L714.6,1143.8 L715.1,1131.9 L715.6,1163.8 L716.6,1112.9 L716.6,1112.9 L717.6,1133.3 L718.1,1093.8 L718.6,1099.8 L719.6,1151.9 L719.7,1112.9 L720.6,1093.8 L721.2,1082.4 L721.6,1137.5 L722.6,1111.0 L722.7,1112.9 L723.6,1113.4 L724.2,1074.8 L724.6,1070.0 L725.6,1125.4 L725.8,1055.7 L726.6,1045.0 L727.3,1036.7 L727.6,1098.2 L728.6,1010.0 L728.8,1006.2 L729.6,1091.3 L730.3,1055.7 L730.6,1062.9 L731.6,1145.2 L731.9,1093.8 L732.6,1099.5 L733.4,1105.2 L733.6,1168.2 L734.6,1111.4 L734.9,1112.9 L735.6,1163.3 L736.4,1151.0 L736.6,1153.3 L737.6,1199.3 L738.0,1170.0 L738.6,1161.7 L739.5,1151.0 L739.6,1182.7 L740.6,1145.2 L741.0,1143.3 L741.6,1193.4 L742.5,1151.0 L742.6,1152.9 L743.6,1218.9 L744.4,1189.0 L744.6,1194.8 L745.6,1240.9 L746.3,1246.2 L746.6,1253.1 L747.6,1283.1 L748.2,1292.3 M774.9,1292.3 L775.9,1287.4 L776.9,1277.7 L777.6,1272.9 L777.9,1275.2 L778.9,1268.4 L779.9,1265.2 L779.9,1275.3 L780.9,1258.3 L781.9,1262.6 L782.1,1250.0 L782.9,1242.4 L783.9,1250.8 L784.4,1227.1 L784.9,1217.6 L785.9,1225.5 L786.3,1189.0 L786.9,1177.6 L787.9,1186.9 L788.2,1151.0 L788.9,1134.3 L789.8,1112.9 L789.9,1133.0 L790.9,1084.3 L791.3,1074.8 L791.9,1064.8 L792.8,960.5 L792.9,952.2 L793.9,896.9 L794.0,861.4 L794.9,928.1 L795.1,941.4 L795.9,1035.2 L796.6,1036.7 L796.9,1043.8 L797.9,1118.3 L798.1,1074.8 L798.9,1090.0 L799.7,1105.2 L799.9,1139.5 L800.9,1096.0 L801.2,1093.8 L801.9,1134.9 L802.7,1074.8 L802.9,1070.0 L803.9,1114.5 L804.2,1036.7 L804.9,1028.3 L805.8,1017.6 L805.9,1048.0 L806.9,1046.2 L807.3,1055.7 L807.9,1099.7 L808.8,1093.8 L808.9,1095.0 L809.9,1147.8 L810.3,1112.9 L810.9,1120.0 L811.9,1131.9 L811.9,1166.3 L812.9,1124.0 L813.4,1120.5 L813.9,1187.4 L814.9,1151.0 L814.9,1151.0 L815.9,1197.9 L816.8,1170.0 L816.9,1171.0 L817.9,1219.0 L818.7,1189.0 L818.9,1192.9 L819.9,1233.5 L820.6,1227.1 L820.9,1232.9 L821.9,1260.2 L822.5,1265.2 L822.9,1270.7 L823.9,1287.2 L824.4,1292.3 M848.4,1292.3 L849.4,1284.2 L850.4,1268.9 L850.6,1266.5 L851.4,1272.2 L852.4,1258.8 L853.2,1255.5 L853.4,1263.0 L854.4,1250.6 L855.0,1248.2 L855.4,1254.8 L856.4,1245.4 L856.8,1244.5 L857.4,1258.5 L858.4,1247.7 L858.7,1248.2 L859.4,1252.5 L860.4,1241.3 L860.5,1240.9 L861.4,1246.3 L862.3,1237.2 L862.4,1236.9 L863.4,1251.0 L864.1,1229.9 L864.4,1225.1 L865.4,1227.4 L866.0,1193.2 L866.4,1173.0 L867.4,1163.9 L867.4,1119.9 L868.4,1073.0 L868.9,1046.6 L869.4,1076.3 L870.4,936.6 L870.4,936.1 L871.4,878.1 L871.5,834.0 L872.4,918.6 L872.6,936.6 L873.4,980.8 L874.0,973.3 L874.4,977.5 L875.4,1038.4 L875.5,991.6 L876.4,1002.5 L877.0,1009.9 L877.4,1075.1 L878.4,1027.5 L878.4,1028.3 L879.4,1073.2 L879.9,1046.6 L880.4,1056.1 L881.4,1075.9 L881.4,1144.8 L882.4,1086.0 L882.8,1090.6 L883.4,1132.8 L884.3,1101.6 L884.4,1102.5 L885.4,1157.7 L885.8,1119.9 L886.4,1127.5 L887.2,1138.2 L887.4,1187.4 L888.4,1152.5 L888.7,1156.6 L889.4,1205.7 L890.2,1174.9 L890.4,1177.5 L891.4,1230.4 L891.6,1193.2 L892.4,1200.7 L893.4,1239.6 L893.5,1211.6 L894.4,1229.8 L895.3,1248.2 L895.4,1255.1 L896.4,1269.8 L897.4,1290.8 L897.5,1292.3" fill="none" stroke="#111111" stroke-width="1.8" stroke-linejoin="round" stroke-dasharray="8 6"/>
<path d="M104.0,1292.3 L105.0,1281.7 L106.0,1268.2 L107.0,1262.8 L107.7,1248.2 L108.0,1247.4 L109.0,1248.6 L110.0,1242.4 L110.6,1240.9 L111.0,1239.4 L112.0,1194.8 L113.0,1191.2 L113.2,1156.6 L114.0,1106.4 L115.0,1046.6 L115.0,1070.7 L116.0,939.6 L116.1,929.3 L117.0,1037.9 L117.9,1046.6 L118.0,1048.4 L119.0,1112.0 L119.4,1083.3 L120.0,1060.6 L120.9,1028.3 L121.0,1066.2 L122.0,1008.4 L122.3,1002.6 L123.0,1055.7 L124.0,1016.0 L124.2,1017.3 L125.0,1070.4 L126.0,1028.3 L126.0,1028.2 L127.0,1048.7 L127.8,1009.9 L128.0,1010.6 L129.0,1073.4 L129.7,1017.3 L130.0,1021.4 L131.0,1068.6 L131.5,1039.3 L132.0,1041.3 L133.0,1083.5 L133.3,1046.6 L134.0,1039.9 L135.0,1057.2 L135.2,1028.3 L136.0,1033.3 L137.0,1039.3 L137.0,1064.0 L138.0,1047.3 L138.8,1053.9 L139.0,1104.6 L140.0,1049.2 L140.7,1046.6 L141.0,1098.9 L142.0,1052.0 L142.5,1053.9 L143.0,1102.5 L144.0,1066.0 L144.3,1068.6 L145.0,1113.1 L146.0,1098.8 L146.2,1101.6 L147.0,1176.7 L148.0,1193.2 L148.0,1193.7 L149.0,1243.3 L149.8,1266.5 L150.0,1269.1 L151.0,1285.1 L151.7,1292.3 M179.1,1292.3 L180.1,1284.6 L181.1,1272.2 L181.7,1266.5 L182.1,1263.6 L183.1,1230.7 L183.9,1211.6 L184.1,1223.4 L185.1,1185.1 L186.1,1177.3 L186.5,1156.6 L187.1,1147.0 L188.1,1165.7 L189.0,1119.9 L189.1,1116.5 L190.1,1099.4 L191.1,1049.8 L191.2,1046.6 L192.1,1026.4 L192.7,936.6 L193.1,884.2 L193.8,804.7 L194.1,905.9 L194.9,918.3 L195.1,930.2 L196.1,1049.8 L196.4,991.6 L197.1,982.0 L197.8,973.3 L198.1,1032.5 L199.1,957.0 L199.3,955.0 L200.1,1030.5 L201.1,980.6 L201.1,980.7 L202.1,1043.4 L203.0,991.6 L203.1,989.9 L204.1,1021.0 L204.8,973.3 L205.1,974.6 L206.1,1011.4 L206.6,980.6 L207.1,984.7 L208.1,1025.5 L208.5,995.3 L209.1,989.9 L210.1,1016.7 L210.3,980.6 L211.1,984.0 L212.1,987.9 L212.1,1057.1 L213.1,1000.1 L214.0,1009.9 L214.1,1037.7 L215.1,1028.8 L215.8,1039.3 L216.1,1062.2 L217.1,1058.1 L217.6,1064.9 L218.1,1112.3 L219.1,1086.1 L219.5,1090.6 L220.1,1141.6 L221.1,1151.0 L221.3,1156.6 L222.1,1211.7 L223.1,1229.9 L223.1,1230.3 L224.1,1266.7 L225.0,1292.3 M254.0,1292.3 L255.0,1279.5 L256.0,1262.2 L256.9,1248.2 L257.0,1254.0 L258.0,1229.9 L259.0,1221.2 L259.5,1204.2 L260.0,1196.2 L261.0,1204.1 L261.3,1174.9 L262.0,1161.5 L263.0,1165.4 L263.2,1138.2 L264.0,1113.2 L265.0,1083.3 L265.0,1119.2 L266.0,1063.2 L266.8,1046.6 L267.0,1085.6 L268.0,1051.3 L268.7,1053.9 L269.0,1092.3 L270.0,1035.2 L270.5,1028.3 L271.0,1063.4 L272.0,1043.3 L272.3,1046.6 L273.0,1056.4 L274.0,1019.9 L274.2,1017.3 L275.0,1057.3 L276.0,1031.9 L276.0,1031.9 L277.0,1080.1 L277.8,1009.9 L278.0,1004.8 L278.9,977.0 L279.0,1044.2 L280.0,990.4 L280.4,995.3 L281.0,1052.3 L281.9,1024.6 L282.0,1026.7 L283.0,1078.4 L283.3,1046.6 L284.0,1033.1 L284.8,1017.3 L285.0,1079.2 L286.0,1011.2 L286.3,1009.9 L287.0,1075.5 L287.7,1046.6 L288.0,1041.1 L289.0,1046.4 L289.2,1017.3 L290.0,1023.3 L290.7,1028.3 L291.0,1065.8 L292.0,1068.6 L292.5,1083.3 L293.0,1144.7 L294.0,1143.7 L294.3,1156.6 L295.0,1209.7 L296.0,1223.7 L296.2,1229.9 L297.0,1259.0 L298.0,1277.5 L298.0,1277.6 L299.0,1286.9 L299.8,1292.3 M327.3,1292.3 L328.3,1285.7 L329.3,1274.7 L330.2,1266.5 L330.3,1270.1 L331.3,1243.7 L332.3,1227.7 L332.8,1211.6 L333.3,1196.5 L334.3,1189.6 L334.6,1156.6 L335.3,1145.9 L336.3,1159.3 L336.5,1127.2 L337.3,1132.3 L338.3,1138.2 L338.3,1172.4 L339.3,1124.2 L340.1,1112.6 L340.3,1143.6 L341.3,1093.9 L342.0,1083.3 L342.3,1113.0 L343.3,1056.5 L343.8,1046.6 L344.3,1080.9 L345.3,1031.6 L345.6,1028.3 L346.3,1066.8 L347.3,1011.6 L347.5,1009.9 L348.3,1071.7 L349.3,1028.3 L349.3,1028.2 L350.3,1048.6 L351.1,991.6 L351.3,986.4 L352.3,1014.1 L353.0,936.6 L353.3,927.6 L354.1,907.3 L354.3,942.6 L355.3,932.1 L355.5,936.6 L356.3,1018.9 L356.6,966.0 L357.3,982.1 L358.3,1033.4 L358.5,1009.9 L359.3,1026.8 L360.3,1046.6 L360.3,1071.0 L361.3,1056.7 L362.1,1064.9 L362.3,1097.0 L363.3,1076.7 L364.0,1083.3 L364.3,1108.8 L365.3,1096.7 L365.8,1101.6 L366.3,1113.1 L367.3,1092.5 L367.6,1090.6 L368.3,1120.2 L369.3,1110.7 L369.5,1112.6 L370.3,1167.0 L371.3,1156.6 L371.3,1157.0 L372.3,1216.1 L373.1,1229.9 L373.3,1236.0 L374.3,1273.1 L375.0,1292.3 M402.2,1292.3 L403.2,1282.5 L404.2,1266.5 L404.7,1259.2 L405.2,1259.0 L406.2,1235.9 L407.2,1228.6 L407.7,1211.6 L408.2,1202.2 L409.2,1198.7 L410.2,1164.7 L410.6,1156.6 L411.2,1180.7 L412.2,1145.4 L413.2,1138.2 L413.2,1174.0 L414.2,1131.1 L415.2,1144.7 L415.7,1119.9 L416.2,1105.3 L417.2,1106.8 L417.9,1046.6 L418.2,1040.7 L419.2,1061.8 L419.4,1009.9 L420.2,990.7 L420.9,973.3 L421.2,1026.0 L422.2,930.9 L422.3,925.6 L423.2,1000.3 L423.8,955.0 L424.2,968.9 L425.2,1059.4 L425.3,1009.9 L426.2,1032.6 L426.7,1046.6 L427.2,1109.5 L428.2,1075.4 L428.2,1075.9 L429.2,1103.8 L429.7,1090.6 L430.2,1088.6 L431.2,1133.3 L431.5,1083.3 L432.2,1080.6 L433.2,1117.6 L433.3,1075.9 L434.2,1065.8 L435.2,1053.9 L435.2,1077.2 L436.2,1045.9 L437.0,1039.3 L437.2,1095.4 L438.2,1045.1 L438.5,1046.6 L439.2,1098.2 L439.9,1075.9 L440.2,1080.2 L441.2,1136.3 L441.4,1101.6 L442.2,1111.3 L442.9,1119.9 L443.2,1129.2 L444.2,1103.5 L444.3,1101.6 L445.2,1147.1 L446.2,1119.9 L446.2,1120.4 L447.2,1176.9 L448.0,1193.2 L448.2,1202.9 L449.2,1264.9 L449.8,1292.3 M476.6,1292.3 L477.6,1279.3 L478.6,1257.9 L479.1,1248.2 L479.6,1243.8 L480.6,1219.5 L481.0,1211.6 L481.6,1214.1 L482.6,1163.5 L482.8,1156.6 L483.6,1168.4 L484.6,1121.2 L484.6,1119.9 L485.6,1139.7 L486.5,1083.3 L486.6,1081.2 L487.6,1079.8 L488.3,1046.6 L488.6,1035.8 L489.6,1034.0 L490.1,973.3 L490.6,944.2 L491.2,900.0 L491.6,943.9 L492.6,879.9 L492.7,878.0 L493.6,933.5 L494.2,900.0 L494.6,893.9 L495.6,900.1 L495.6,878.0 L496.6,875.6 L497.1,874.3 L497.6,937.3 L498.6,936.6 L498.6,936.7 L499.6,973.6 L500.0,955.0 L500.6,961.7 L501.5,973.3 L501.6,1030.4 L502.6,978.7 L503.0,980.6 L503.6,1050.6 L504.6,990.3 L504.8,991.6 L505.6,1029.8 L506.6,1016.5 L506.6,1017.3 L507.6,1072.1 L508.5,1009.9 L508.6,1011.0 L509.6,1043.6 L510.3,1028.3 L510.6,1025.5 L511.6,1069.7 L512.1,1009.9 L512.6,1009.1 L513.6,1057.1 L514.0,1006.3 L514.6,1009.9 L515.6,1069.6 L515.8,1017.3 L516.6,1029.7 L517.6,1063.9 L517.6,1046.6 L518.6,1084.4 L519.5,1119.9 L519.6,1140.8 L520.6,1164.4 L521.3,1193.2 L521.6,1226.8 L522.6,1262.3 L523.1,1292.3 M552.2,1292.3 L553.2,1282.5 L554.2,1266.5 L554.7,1259.2 L555.2,1259.1 L556.2,1240.1 L556.9,1229.9 L557.2,1234.2 L558.2,1209.3 L559.1,1193.2 L559.2,1215.3 L560.2,1158.7 L561.2,1157.6 L561.3,1119.9 L562.2,1086.5 L563.2,1046.6 L563.2,1070.1 L564.2,1016.5 L565.0,991.6 L565.2,1054.0 L566.2,979.9 L566.8,973.3 L567.2,1023.2 L568.2,941.2 L568.7,929.3 L569.2,966.2 L570.1,900.0 L570.2,899.5 L571.2,934.9 L571.6,881.6 L572.2,855.9 L573.1,815.7 L573.2,877.2 L574.2,851.6 L574.5,863.3 L575.2,904.4 L576.0,900.0 L576.2,905.2 L577.2,982.3 L577.5,944.0 L578.2,958.1 L578.9,973.3 L579.2,1002.6 L580.2,979.5 L580.4,980.6 L581.2,1040.2 L581.9,987.9 L582.2,989.5 L583.2,1057.9 L583.3,995.3 L584.2,988.5 L585.2,980.6 L585.2,1014.6 L586.2,996.8 L587.0,1009.9 L587.2,1036.5 L588.2,1033.5 L588.8,1046.6 L589.2,1077.8 L590.2,1073.5 L590.7,1083.3 L591.2,1123.5 L592.2,1128.6 L592.5,1138.2 L593.2,1178.5 L594.2,1188.6 L594.3,1193.2 L595.2,1234.5 L596.2,1248.2 L596.2,1248.5 L597.2,1275.1 L598.0,1292.3 M624.4,1292.3 L625.4,1282.6 L626.4,1269.7 L627.3,1259.2 L627.4,1262.4 L628.4,1245.0 L629.4,1239.8 L629.5,1229.9 L630.4,1215.4 L631.4,1219.9 L631.7,1193.2 L632.4,1176.5 L633.4,1171.7 L633.9,1138.2 L634.4,1124.2 L635.4,1134.7 L635.7,1083.3 L636.4,1073.1 L637.4,1077.6 L637.6,1053.9 L638.4,1039.9 L639.0,1028.3 L639.4,1081.6 L640.4,978.1 L640.5,973.3 L641.4,972.8 L642.0,918.3 L642.4,928.4 L643.4,1014.6 L643.4,955.0 L644.4,978.4 L644.9,991.6 L645.4,1014.0 L646.4,980.6 L646.4,980.7 L647.4,1058.3 L647.8,1009.9 L648.4,999.1 L649.3,980.6 L649.4,1006.2 L650.4,961.8 L650.8,955.0 L651.4,987.7 L652.2,907.3 L652.4,911.9 L653.4,972.0 L653.7,955.0 L654.4,963.4 L655.2,973.3 L655.4,1001.1 L656.4,988.4 L656.6,991.6 L657.4,1051.0 L658.4,1009.0 L658.5,1009.9 L659.4,1060.3 L660.3,1017.3 L660.4,1017.7 L661.4,1084.6 L662.1,1028.3 L662.4,1030.7 L663.4,1091.8 L664.0,1046.6 L664.4,1048.2 L665.4,1104.0 L665.8,1053.9 L666.4,1057.4 L667.4,1115.0 L667.6,1064.9 L668.4,1079.8 L669.4,1134.1 L669.5,1101.6 L670.4,1128.9 L671.3,1156.6 L671.4,1186.9 L672.4,1199.7 L673.1,1229.9 L673.4,1243.0 L674.4,1272.3 L675.0,1292.3 M699.9,1292.3 L700.9,1280.6 L701.9,1266.3 L702.5,1257.6 L702.9,1260.4 L703.9,1242.4 L704.9,1239.1 L705.2,1227.1 L705.9,1221.6 L706.9,1221.6 L707.5,1208.1 L707.9,1198.6 L708.9,1182.2 L709.0,1170.0 L709.9,1137.9 L710.5,1112.9 L710.9,1123.6 L711.9,1046.2 L712.0,1036.7 L712.9,1013.5 L713.2,922.4 L713.9,843.5 L714.3,787.1 L714.9,852.6 L715.9,884.3 L715.9,884.3 L716.9,1001.8 L717.4,960.5 L717.9,972.4 L718.9,1060.9 L718.9,998.6 L719.9,951.0 L720.4,922.4 L720.9,953.3 L721.9,868.8 L722.0,865.2 L722.7,819.5 L722.9,893.9 L723.9,868.1 L724.2,884.3 L724.9,938.8 L725.8,960.5 L725.9,962.9 L726.9,1031.5 L727.3,998.6 L727.9,1012.9 L728.8,1036.7 L728.9,1075.5 L729.9,1062.9 L730.3,1074.8 L730.9,1102.8 L731.9,1093.8 L731.9,1093.8 L732.9,1111.3 L733.4,1067.1 L733.9,1057.6 L734.9,1098.2 L734.9,1036.7 L735.9,1060.5 L736.4,1074.8 L736.9,1116.6 L737.9,1046.2 L738.0,1044.3 L738.9,1090.8 L739.5,1055.7 L739.9,1060.5 L740.9,1114.2 L741.0,1074.8 L741.9,1096.2 L742.5,1112.9 L742.9,1153.2 L743.9,1152.9 L744.4,1170.0 L744.9,1205.6 L745.9,1227.1 L746.3,1246.2 L746.9,1265.8 L747.9,1283.1 L748.2,1292.3 M773.8,1292.3 L774.8,1281.7 L775.8,1268.6 L776.0,1265.2 L776.8,1265.1 L777.8,1251.0 L778.3,1246.2 L778.8,1244.7 L779.8,1222.4 L780.6,1208.1 L780.8,1225.0 L781.8,1179.5 L782.8,1177.4 L782.9,1151.0 L783.8,1129.5 L784.4,1112.9 L784.8,1140.0 L785.8,1062.9 L786.0,1055.7 L786.8,1114.6 L787.5,1093.8 L787.8,1097.4 L788.8,1151.8 L789.0,1112.9 L789.8,1093.8 L790.5,1074.8 L790.8,1096.3 L791.8,1043.8 L792.0,1036.7 L792.8,1051.4 L793.6,960.5 L793.8,965.2 L794.3,979.5 L794.8,1047.5 L795.8,1015.2 L795.9,1017.6 L796.8,1094.1 L797.4,1055.7 L797.8,1051.0 L798.8,1074.2 L798.9,1036.7 L799.8,1053.8 L800.4,1067.1 L800.8,1090.8 L801.8,1073.8 L802.0,1074.8 L802.8,1133.1 L803.5,1093.8 L803.8,1097.4 L804.8,1123.1 L805.0,1112.9 L805.8,1109.0 L806.5,1105.2 L806.8,1124.7 L807.8,1099.0 L808.0,1097.6 L808.8,1126.4 L809.6,1112.9 L809.8,1113.8 L810.8,1141.4 L811.1,1120.5 L811.8,1115.1 L812.8,1131.7 L813.0,1105.2 L813.8,1115.9 L814.8,1148.1 L814.9,1131.9 L815.8,1140.5 L816.8,1167.1 L816.8,1151.0 L817.8,1131.9 L818.7,1112.9 L818.8,1130.9 L819.8,1154.8 L820.6,1189.0 L820.8,1212.9 L821.8,1223.3 L822.5,1246.2 L822.8,1258.2 L823.8,1276.2 L824.4,1292.3 M847.7,1292.3 L848.7,1282.7 L849.7,1268.9 L849.9,1266.5 L850.7,1258.3 L851.7,1236.5 L852.1,1229.9 L852.7,1220.6 L853.7,1189.9 L854.3,1174.9 L854.7,1193.0 L855.7,1139.9 L855.7,1138.2 L856.7,1132.4 L857.2,1101.6 L857.7,1098.1 L858.7,1090.6 L858.7,1118.8 L859.7,1135.7 L860.1,1156.6 L860.7,1167.8 L861.6,1138.2 L861.7,1137.4 L862.7,1137.2 L863.0,1119.9 L863.7,1104.8 L864.5,1083.3 L864.7,1119.0 L865.7,1054.8 L866.0,1046.6 L866.7,1077.1 L867.4,1009.9 L867.7,1007.4 L868.7,1050.1 L868.9,991.6 L869.7,1000.9 L870.4,1009.9 L870.7,1074.0 L871.7,1041.8 L871.8,1046.6 L872.7,1081.0 L873.3,1028.3 L873.7,1024.0 L874.7,1045.5 L874.8,1009.9 L875.7,1031.8 L876.2,1046.6 L876.7,1069.2 L877.7,993.8 L877.7,991.6 L878.7,1037.2 L879.2,955.0 L879.7,958.5 L880.6,966.0 L880.7,1016.3 L881.7,983.6 L882.1,991.6 L882.7,1065.8 L883.6,1046.6 L883.7,1047.6 L884.7,1098.3 L885.0,1064.9 L885.7,1072.6 L886.5,1083.3 L886.7,1117.3 L887.7,1097.6 L888.0,1101.6 L888.7,1115.0 L889.7,1084.8 L889.8,1083.3 L890.7,1122.1 L891.6,1064.9 L891.7,1065.0 L892.7,1107.1 L893.5,1083.3 L893.7,1095.2 L894.6,1156.6 L894.7,1181.6 L895.7,1210.5 L896.0,1229.9 L896.7,1259.4 L897.5,1292.3" fill="none" stroke="#2660a6" stroke-width="1.8" stroke-linejoin="round" stroke-dasharray="8 6"/>
</svg></body></html>
